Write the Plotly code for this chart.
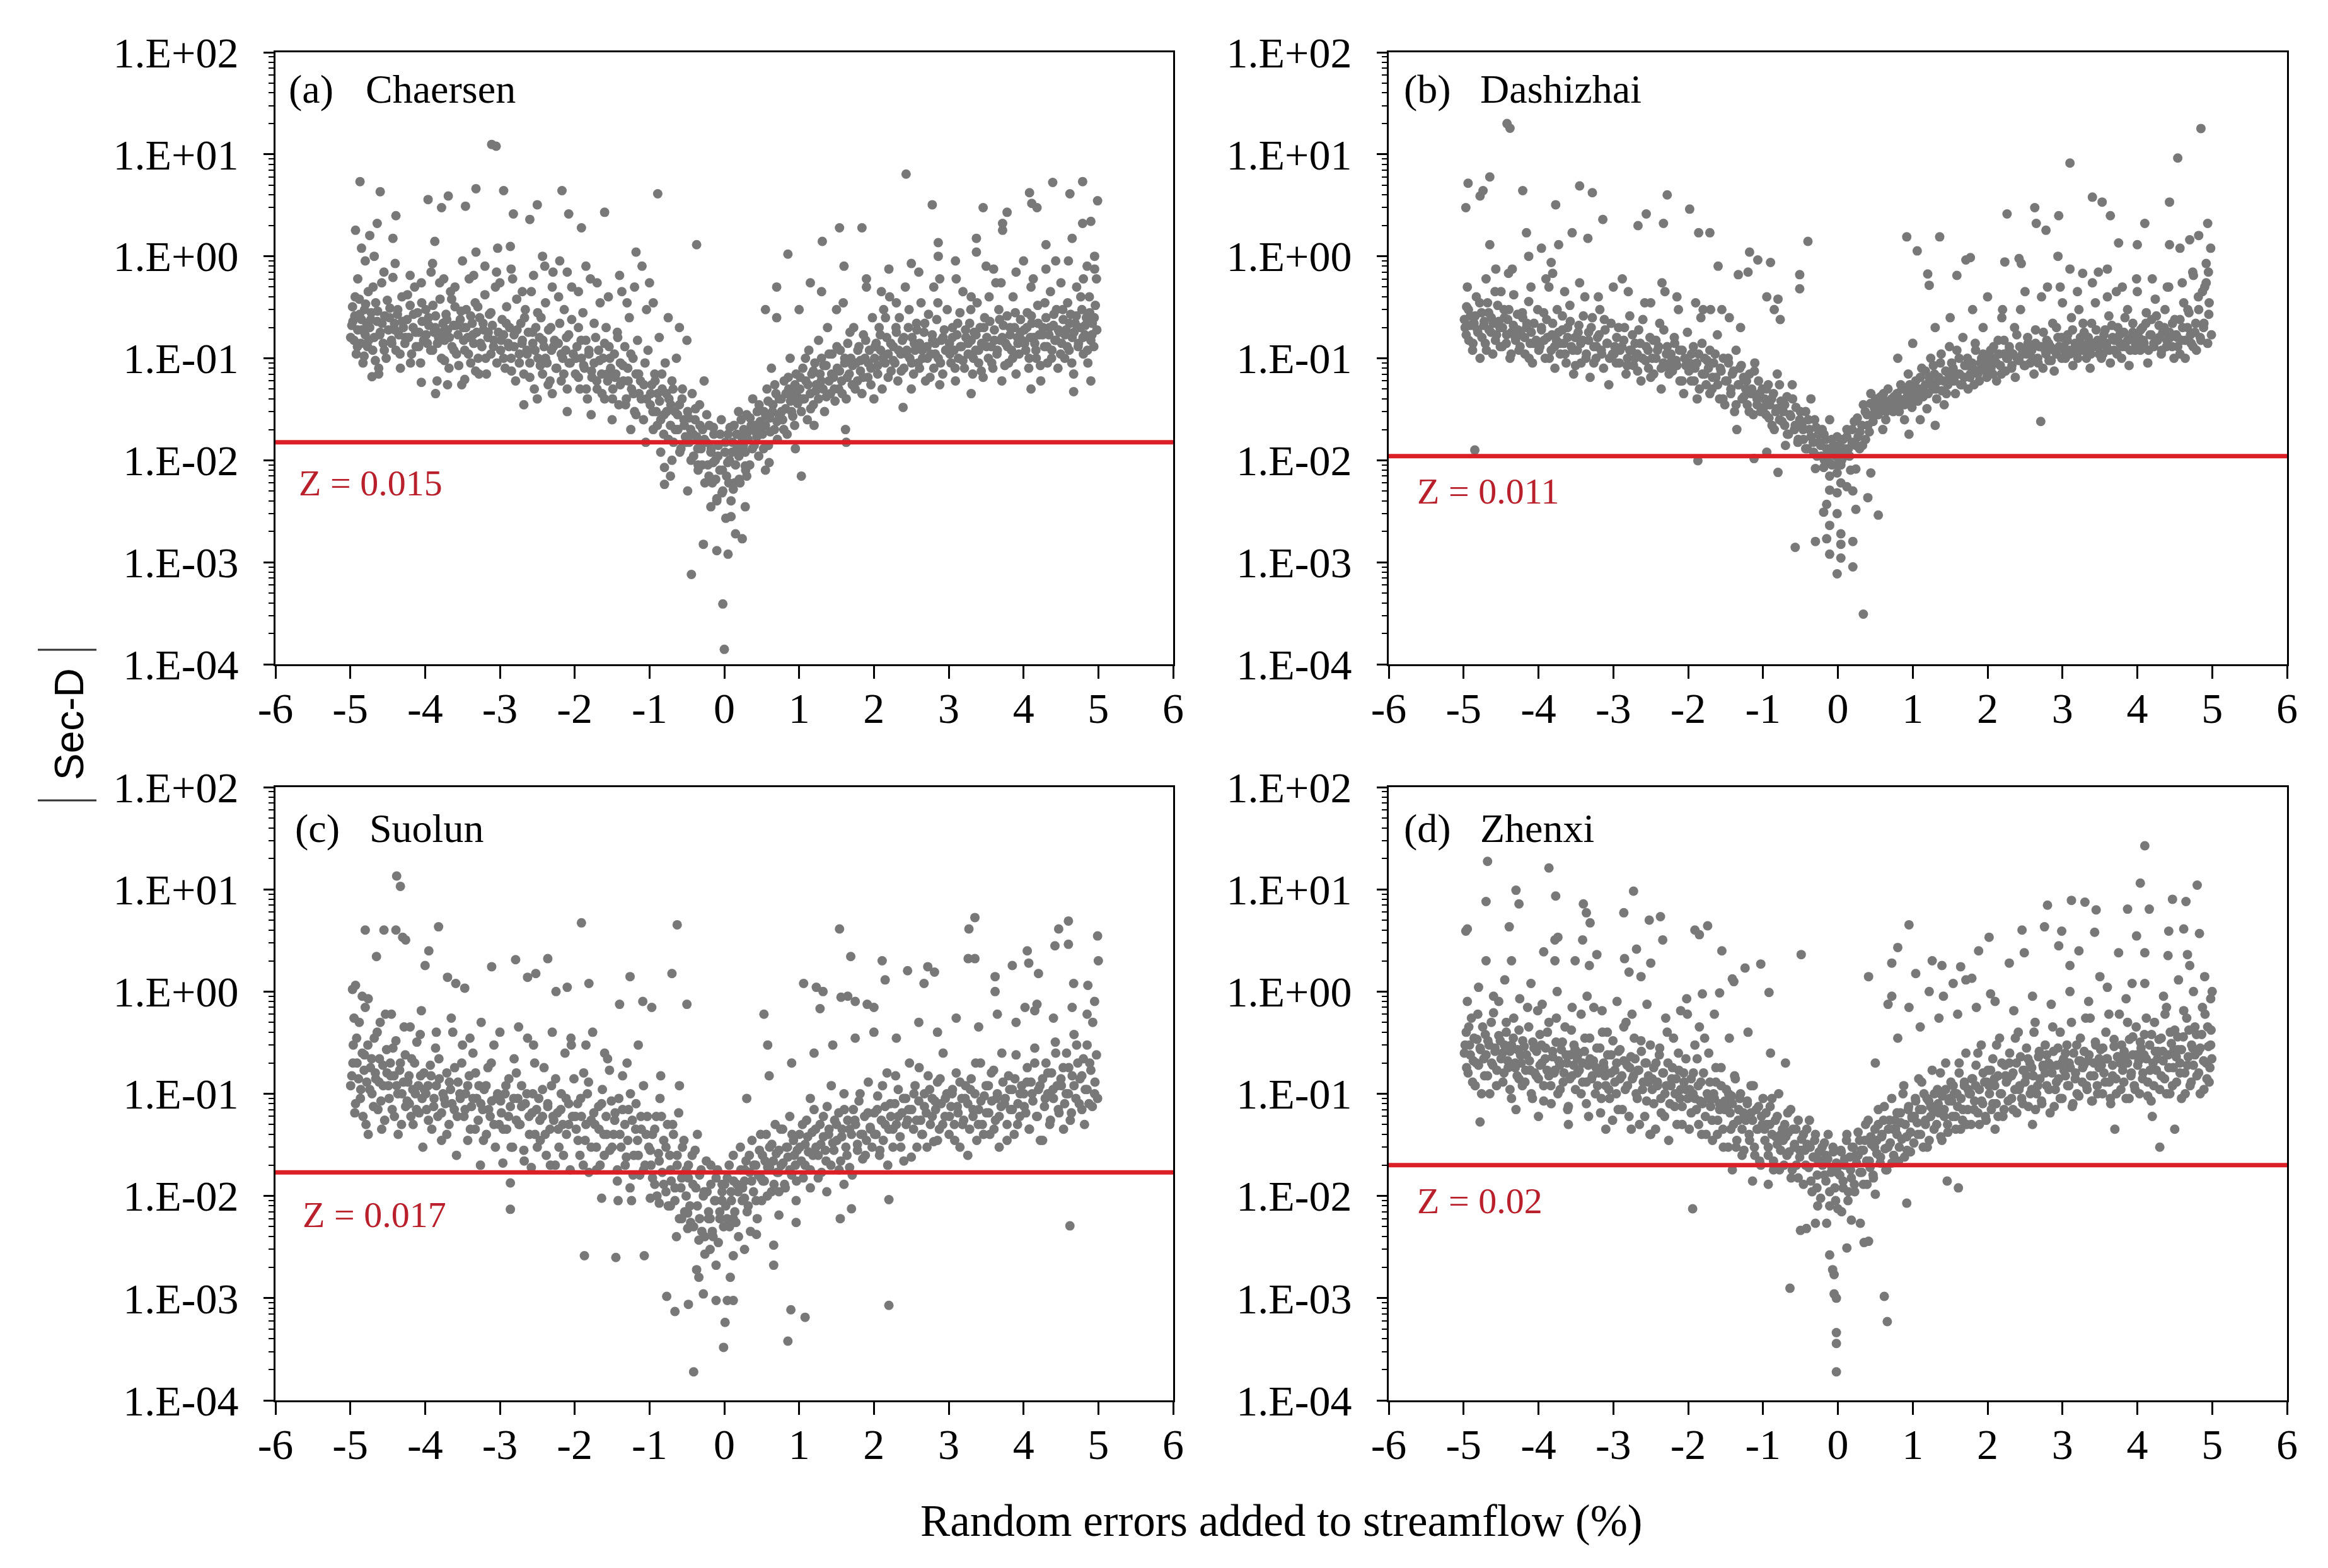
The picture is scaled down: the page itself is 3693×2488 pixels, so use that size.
import math
import plotly.graph_objects as go

# |Sec-D| versus random error (%) for four stations
stations = ["Chaersen", "Dashizhai", "Suolun", "Zhenxi"]
letters = ["(a)", "(b)", "(c)", "(d)"]
z_values = [0.015, 0.011, 0.017, 0.02]
z_labels = ["Z = 0.015", "Z = 0.011", "Z = 0.017", "Z = 0.02"]

x_ticks = [-6, -5, -4, -3, -2, -1, 0, 1, 2, 3, 4, 5, 6]
x_ticktext = ["-6", "-5", "-4", "-3", "-2", "-1", "0", "1", "2", "3", "4", "5", "6"]
y_ticks = [1e-4, 1e-3, 1e-2, 1e-1, 1, 10, 100]
y_ticktext = ["1.E-04", "1.E-03", "1.E-02", "1.E-01", "1.E+00", "1.E+01", "1.E+02"]

chaersen = [
    (-4.98,0.21),(-4.97,0.32),(-4.95,0.15),(-4.94,0.26),(-4.92,0.11),(-4.9,0.19),(-4.88,0.38),(-4.86,0.14),(-4.85,0.24),(-4.83,0.09),(-4.81,0.3),(-4.8,0.17),(-4.78,0.22),(-4.77,0.13),(-4.76,0.45),
    (-4.74,0.2),(-4.72,0.28),(-4.7,0.12),(-4.68,0.16),(-4.66,0.35),(-4.64,0.23),(-4.62,0.07),(-4.6,0.18),(-4.58,0.55),(-4.56,0.14),(-4.54,0.26),(-4.52,0.1),
    (-4.49,0.19),(-4.47,0.31),(-4.45,0.15),(-4.43,0.62),(-4.41,0.22),(-4.39,0.12),(-4.37,0.27),(-4.35,0.17),(-4.33,0.08),(-4.31,0.4),(-4.29,0.2),(-4.27,0.14),
    (-4.24,0.24),(-4.22,0.16),(-4.2,0.33),(-4.18,0.11),(-4.16,0.2),(-4.14,0.5),(-4.12,0.13),(-4.1,0.28),(-4.08,0.18),(-4.06,0.09),(-4.04,0.23),(-4.02,0.15),
    (-3.99,0.3),(-3.97,0.14),(-3.95,0.21),(-3.92,0.7),(-3.9,0.12),(-3.88,0.18),(-3.86,0.26),(-3.84,0.06),(-3.82,0.16),(-3.8,0.38),(-3.78,0.1),(-3.76,0.22),
    (-3.74,0.15),(-3.72,0.27),(-3.7,0.19),(-3.68,0.08),(-3.66,0.45),(-3.64,0.13),(-3.62,0.21),(-3.6,0.32),(-3.58,0.11),(-3.56,0.17),(-3.53,0.24),(-3.51,0.055),
    (-3.49,0.2),(-3.47,0.12),(-3.45,0.3),(-3.43,0.16),(-3.41,0.6),(-3.39,0.09),(-3.37,0.22),(-3.35,0.14),(-3.33,0.35),(-3.31,0.18),(-3.29,0.1),(-3.27,0.25),
    (-3.24,0.13),(-3.22,0.19),(-3.2,0.42),(-3.18,0.07),(-3.16,0.16),(-3.14,0.27),(-3.12,0.11),(-3.1,0.21),(-3.08,0.15),(-3.06,0.5),(-3.04,0.09),(-3.02,0.18),
    (-2.99,0.12),(-2.97,0.24),(-2.95,0.17),(-2.93,0.08),(-2.91,0.32),(-2.89,0.14),(-2.87,0.2),(-2.85,0.1),(-2.83,0.6),(-2.81,0.13),(-2.79,0.06),(-2.77,0.19),
    (-2.74,0.11),(-2.72,0.22),(-2.7,0.15),(-2.68,0.07),(-2.66,0.3),(-2.64,0.12),(-2.62,0.18),(-2.6,0.09),(-2.58,0.45),(-2.56,0.14),(-2.54,0.05),(-2.52,0.2),
    (-2.49,0.1),(-2.47,0.16),(-2.45,0.25),(-2.43,0.07),(-2.41,0.13),(-2.39,0.35),(-2.37,0.09),(-2.35,0.19),(-2.33,0.06),(-2.31,0.12),(-2.29,0.7),(-2.27,0.15),
    (-2.24,0.08),(-2.22,0.14),(-2.2,0.22),(-2.18,0.06),(-2.16,0.1),(-2.14,0.3),(-2.12,0.12),(-2.1,0.05),(-2.08,0.17),(-2.06,0.09),(-2.04,0.5),(-2.02,0.11),
    (-1.99,0.07),(-1.97,0.13),(-1.95,0.2),(-1.93,0.05),(-1.91,0.1),(-1.89,0.28),(-1.87,0.08),(-1.85,0.15),(-1.83,0.04),(-1.81,0.11),(-1.79,0.6),(-1.77,0.065),
    (-1.74,0.09),(-1.72,0.16),(-1.7,0.05),(-1.68,0.12),(-1.66,0.35),(-1.64,0.07),(-1.62,0.1),(-1.6,0.04),(-1.58,0.2),(-1.56,0.06),(-1.54,0.13),(-1.52,0.08),
    (-1.49,0.05),(-1.47,0.11),(-1.45,0.07),(-1.43,0.18),(-1.41,0.035),(-1.39,0.09),(-1.37,0.45),(-1.35,0.06),(-1.33,0.13),(-1.31,0.04),(-1.29,0.08),(-1.27,0.25),
    (-1.24,0.05),(-1.22,0.1),(-1.2,0.03),(-1.18,0.07),(-1.16,0.15),(-1.14,0.045),(-1.12,0.06),(-1.1,0.8),(-1.08,0.025),(-1.06,0.09),(-1.04,0.04),(-1.02,0.12),
    (-0.99,0.035),(-0.97,0.055),(-0.95,0.02),(-0.93,0.07),(-0.91,0.03),(-0.89,0.045),(-0.87,0.16),(-0.85,0.025),(-0.83,0.05),(-0.81,0.018),(-0.79,0.09),(-0.77,0.03),
    (-0.74,0.04),(-0.72,0.022),(-0.7,0.06),(-0.68,0.015),(-0.66,0.03),(-0.64,0.1),(-0.62,0.02),(-0.6,0.035),(-0.58,0.013),(-0.56,0.05),(-0.54,0.025),(-0.52,0.017),
    (-0.49,0.03),(-0.47,0.015),(-0.45,0.02),(-0.43,0.045),(-0.41,0.011),(-0.39,0.025),(-0.37,0.017),(-0.35,0.008),(-0.33,0.035),(-0.31,0.013),(-0.29,0.02),(-0.27,0.06),
    (-0.24,0.015),(-0.22,0.009),(-0.2,0.022),(-0.18,0.012),(-0.16,0.006),(-0.14,0.018),(-0.12,0.01),(-0.1,0.004),(-0.08,0.014),(-0.06,0.008),(-0.04,0.025),(-0.02,0.005),
    (0.01,0.012),(0.03,0.007),(0.05,0.018),(0.07,0.01),(0.09,0.004),(0.11,0.015),(0.13,0.022),(0.15,0.009),(0.17,0.013),(0.19,0.03),(0.21,0.006),(0.23,0.017),
    (0.26,0.02),(0.28,0.012),(0.3,0.028),(0.32,0.016),(0.34,0.009),(0.36,0.022),(0.38,0.04),(0.4,0.014),(0.42,0.019),(0.44,0.03),(0.46,0.011),(0.48,0.024),
    (0.51,0.018),(0.53,0.03),(0.55,0.022),(0.57,0.05),(0.59,0.014),(0.61,0.026),(0.63,0.08),(0.65,0.035),(0.67,0.02),(0.69,0.045),(0.71,0.016),(0.73,0.028),
    (0.76,0.04),(0.78,0.025),(0.8,0.06),(0.82,0.032),(0.84,0.018),(0.86,0.05),(0.88,0.1),(0.9,0.03),(0.92,0.045),(0.94,0.022),(0.96,0.07),(0.98,0.036),
    (1.01,0.05),(1.03,0.03),(1.05,0.08),(1.07,0.04),(1.09,0.06),(1.11,0.025),(1.13,0.12),(1.15,0.045),(1.17,0.07),(1.19,0.035),(1.21,0.09),(1.23,0.055),
    (1.26,0.04),(1.28,0.07),(1.3,0.1),(1.32,0.05),(1.34,0.03),(1.36,0.085),(1.38,0.2),(1.4,0.06),(1.42,0.045),(1.44,0.11),(1.46,0.065),(1.48,0.038),
    (1.51,0.08),(1.53,0.05),(1.55,0.12),(1.57,0.06),(1.59,0.35),(1.61,0.09),(1.63,0.04),(1.65,0.14),(1.67,0.07),(1.69,0.1),(1.71,0.055),(1.73,0.2),
    (1.76,0.09),(1.78,0.06),(1.8,0.13),(1.82,0.075),(1.84,0.045),(1.86,0.17),(1.88,0.1),(1.9,0.5),(1.92,0.065),(1.94,0.12),(1.96,0.08),(1.98,0.25),
    (2.01,0.1),(2.03,0.14),(2.05,0.07),(2.07,0.2),(2.09,0.12),(2.11,0.05),(2.13,0.3),(2.15,0.09),(2.17,0.16),(2.19,0.11),(2.21,0.4),(2.23,0.075),
    (2.26,0.13),(2.28,0.09),(2.3,0.18),(2.32,0.06),(2.34,0.25),(2.36,0.11),(2.38,0.15),(2.4,0.08),(2.42,0.5),(2.44,0.12),(2.46,0.2),(2.48,0.1),
    (2.51,0.16),(2.53,0.07),(2.55,0.12),(2.57,0.22),(2.59,0.09),(2.61,0.14),(2.63,0.35),(2.65,0.1),(2.67,0.18),(2.69,0.06),(2.71,0.13),(2.73,0.27),
    (2.76,0.11),(2.78,0.17),(2.8,0.08),(2.82,0.14),(2.84,0.24),(2.86,0.1),(2.88,0.6),(2.9,0.15),(2.92,0.07),(2.94,0.19),(2.96,0.12),(2.98,0.3),
    (3.01,0.14),(3.03,0.09),(3.05,0.2),(3.07,0.12),(3.09,0.06),(3.11,0.17),(3.13,0.1),(3.15,0.28),(3.17,0.13),(3.19,0.45),(3.21,0.08),(3.23,0.16),
    (3.26,0.11),(3.28,0.22),(3.3,0.15),(3.32,0.07),(3.34,0.18),(3.36,0.12),(3.38,0.35),(3.4,0.09),(3.42,0.2),(3.44,0.14),(3.46,0.065),(3.48,0.25),
    (3.51,0.16),(3.53,0.1),(3.55,0.23),(3.57,0.13),(3.59,0.08),(3.61,0.19),(3.63,0.55),(3.65,0.12),(3.67,0.3),(3.69,0.15),(3.71,0.06),(3.73,0.21),
    (3.76,0.14),(3.78,0.26),(3.8,0.09),(3.82,0.17),(3.84,0.12),(3.86,0.4),(3.88,0.2),(3.9,0.07),(3.92,0.16),(3.94,0.11),(3.96,0.24),(3.98,0.15),
    (4.01,0.19),(4.03,0.12),(4.05,0.28),(4.07,0.08),(4.09,0.16),(4.11,0.22),(4.13,0.6),(4.15,0.14),(4.17,0.1),(4.19,0.33),(4.21,0.17),(4.23,0.06),
    (4.26,0.2),(4.28,0.13),(4.3,0.25),(4.32,0.09),(4.34,0.17),(4.36,0.45),(4.38,0.12),(4.4,0.21),(4.42,0.15),(4.44,0.3),(4.46,0.08),(4.48,0.18),
    (4.51,0.14),(4.53,0.24),(4.55,0.1),(4.57,0.19),(4.59,0.35),(4.61,0.12),(4.63,0.27),(4.65,0.16),(4.67,0.07),(4.69,0.22),(4.71,0.5),(4.73,0.13),
    (4.76,0.2),(4.78,0.3),(4.8,0.11),(4.82,0.17),(4.84,0.25),(4.86,0.09),(4.88,0.4),(4.9,0.15),(4.92,0.22),(4.94,0.13),(4.96,0.33),(4.98,0.19),
    (-4.995,0.16),(-4.965,0.23),(-4.935,0.4),(-4.905,0.13),(-4.875,0.27),(-4.845,0.19),(-4.815,0.105),(-4.795,0.34),(-4.755,0.15),(-4.725,0.24),
    (-4.695,0.5),(-4.665,0.095),(-4.635,0.29),(-4.605,0.17),(-4.575,0.22),(-4.545,0.12),(-4.505,0.37),(-4.475,0.25),(-4.445,0.14),(-4.405,0.19),
    (-4.365,0.3),(-4.335,0.11),(-4.305,0.23),(-4.265,0.16),(-4.235,0.42),(-4.195,0.09),(-4.155,0.27),(-4.125,0.18),(-4.085,0.13),(-4.045,0.35),
    (-3.985,0.17),(-3.955,0.25),(-3.925,0.12),(-3.895,0.33),(-3.865,0.2),(-3.835,0.14),(-3.805,0.55),(-3.77,0.18),(-3.74,0.095),(-3.71,0.24),
    (-3.675,0.16),(-3.645,0.38),(-3.615,0.12),(-3.585,0.21),(-3.55,0.085),(-3.52,0.29),(-3.485,0.15),(-3.455,0.2),(-3.42,0.11),(-3.39,0.26),
    (-3.36,0.17),(-3.325,0.075),(-3.295,0.32),(-3.26,0.14),(-3.225,0.22),(-3.19,0.1),(-3.155,0.18),(-3.12,0.28),(-3.085,0.13),(-3.045,0.7),
    (-2.985,0.15),(-2.95,0.1),(-2.915,0.22),(-2.88,0.13),(-2.845,0.075),(-2.81,0.17),(-2.775,0.38),(-2.74,0.09),(-2.705,0.14),(-2.67,0.25),
    (-2.635,0.11),(-2.6,0.065),(-2.565,0.18),(-2.53,0.12),(-2.495,0.28),(-2.46,0.085),(-2.425,0.15),(-2.39,0.1),(-2.355,0.055),(-2.32,0.2),
    (-2.285,0.13),(-2.25,0.08),(-2.215,0.4),(-2.18,0.11),(-2.145,0.07),(-2.11,0.16),(-2.075,0.09),(-2.04,0.24),
    (-1.985,0.1),(-1.95,0.065),(-1.915,0.15),(-1.88,0.085),(-1.845,0.05),(-1.81,0.12),(-1.775,0.075),(-1.74,0.22),(-1.705,0.06),(-1.67,0.095),
    (-1.635,0.045),(-1.6,0.14),(-1.565,0.07),(-1.53,0.1),(-1.495,0.04),(-1.46,0.065),(-1.425,0.16),(-1.39,0.055),(-1.355,0.085),(-1.32,0.035),
    (-1.285,0.06),(-1.25,0.11),(-1.215,0.045),(-1.18,0.028),(-1.145,0.07),(-1.11,0.04),(-1.075,0.055),(-1.04,0.3),
    (-0.985,0.045),(-0.955,0.03),(-0.925,0.06),(-0.895,0.022),(-0.865,0.038),(-0.835,0.07),(-0.805,0.028),(-0.775,0.045),(-0.745,0.016),(-0.715,0.035),
    (-0.685,0.05),(-0.655,0.02),(-0.625,0.028),(-0.595,0.012),(-0.565,0.04),(-0.535,0.022),(-0.505,0.015),(-0.475,0.026),(-0.445,0.01),(-0.415,0.018),
    (-0.385,0.032),(-0.355,0.013),(-0.325,0.022),(-0.295,0.009),(-0.265,0.016),(-0.235,0.028),(-0.205,0.007),(-0.175,0.013),(-0.145,0.021),(-0.115,0.0065),
    (-0.085,0.011),(-0.055,0.018),(-0.025,0.008),
    (0.015,0.015),(0.045,0.0095),(0.075,0.021),(0.105,0.012),(0.135,0.006),(0.165,0.018),(0.195,0.011),(0.225,0.025),(0.255,0.014),(0.285,0.008),
    (0.315,0.019),(0.345,0.026),(0.375,0.013),(0.405,0.022),(0.435,0.017),(0.465,0.035),(0.495,0.02),(0.525,0.013),(0.555,0.027),(0.585,0.038),
    (0.615,0.019),(0.645,0.03),(0.675,0.055),(0.705,0.024),(0.735,0.04),(0.765,0.03),(0.795,0.02),(0.825,0.045),(0.855,0.065),(0.885,0.038),
    (0.915,0.027),(0.945,0.055),(0.975,0.042),
    (1.015,0.065),(1.05,0.04),(1.085,0.1),(1.12,0.055),(1.155,0.032),(1.19,0.075),(1.225,0.048),(1.26,0.15),(1.295,0.06),(1.33,0.085),
    (1.365,0.042),(1.4,0.11),(1.435,0.07),(1.47,0.05),(1.505,0.13),(1.54,0.075),(1.575,0.045),(1.61,0.1),(1.645,0.065),(1.68,0.18),
    (1.715,0.085),(1.75,0.05),(1.785,0.12),(1.82,0.095),(1.855,0.065),(1.89,0.15),(1.925,0.09),(1.96,0.055),
    (2.015,0.13),(2.05,0.085),(2.085,0.17),(2.12,0.1),(2.155,0.25),(2.19,0.065),(2.225,0.14),(2.26,0.095),(2.295,0.2),(2.33,0.12),
    (2.365,0.075),(2.4,0.16),(2.435,0.11),(2.47,0.3),(2.505,0.09),(2.54,0.14),(2.575,0.19),(2.61,0.08),(2.645,0.12),(2.68,0.22),
    (2.715,0.1),(2.75,0.065),(2.785,0.15),(2.82,0.11),(2.855,0.35),(2.89,0.09),(2.925,0.16),(2.96,0.12),
    (3.015,0.11),(3.05,0.16),(3.085,0.08),(3.12,0.22),(3.155,0.13),(3.19,0.095),(3.225,0.19),(3.26,0.14),(3.295,0.3),(3.33,0.1),
    (3.365,0.17),(3.4,0.12),(3.435,0.075),(3.47,0.2),(3.505,0.13),(3.54,0.4),(3.575,0.09),(3.61,0.15),(3.645,0.11),(3.68,0.24),
    (3.715,0.16),(3.75,0.085),(3.785,0.13),(3.82,0.2),(3.855,0.1),(3.89,0.28),(3.925,0.14),(3.96,0.18),
    (4.015,0.14),(4.045,0.2),(4.075,0.1),(4.105,0.26),(4.135,0.16),(4.165,0.12),(4.195,0.22),(4.225,0.085),(4.255,0.17),(4.285,0.35),
    (4.315,0.13),(4.345,0.2),(4.375,0.1),(4.405,0.27),(4.435,0.15),(4.465,0.19),(4.495,0.11),(4.525,0.3),(4.555,0.17),(4.585,0.13),
    (4.615,0.22),(4.645,0.09),(4.675,0.18),(4.705,0.26),(4.735,0.14),(4.765,0.4),(4.795,0.16),(4.825,0.21),(4.855,0.12),(4.885,0.28),
    (4.915,0.17),(4.945,0.25),(4.975,0.6),
    (-4.9,0.6),(-4.8,0.9),(-4.55,0.7),(-4.4,0.85),(-4.2,0.65),(-4.05,0.55),(-3.9,0.85),(-3.75,0.6),(-3.6,0.5),(-3.5,0.9),(-3.35,0.65),(-3.2,0.8),
    (-3.0,0.55),(-2.85,0.75),(-2.7,0.45),(-2.55,0.65),(-2.4,0.8),(-2.3,0.5),(-2.1,0.7),(-1.95,0.45),(-1.85,0.8),(-1.7,0.55),(-1.55,0.4),(-1.4,0.65),
    (-1.3,0.35),(-1.2,0.5),(-0.95,0.35),(-0.6,0.2),(-0.5,0.15),(0.7,0.25),(1.0,0.3),(1.3,0.45),(1.5,0.3),(1.9,0.6),(2.1,0.45),(2.3,0.35),(2.6,0.7),
    (2.8,0.5),(3.1,0.6),(3.3,0.4),(3.5,0.8),(3.7,0.55),(3.9,0.7),(4.1,0.5),(4.3,0.75),(4.5,0.55),(4.6,0.9),(4.8,0.6),(4.95,0.75),
    (-4.87,5.4),(-4.6,4.3),(-4.39,2.5),(-4.64,2.1),(-4.93,1.8),(-4.74,1.6),(-4.43,1.5),(-4.85,1.2),(-4.68,1.0),(-3.96,3.6),(-3.78,3.0),(-3.69,3.9),
    (-3.46,3.1),(-3.32,4.6),(-3.11,12.5),(-3.05,12.0),(-2.95,4.4),(-2.82,2.6),(-2.6,2.3),(-2.5,3.2),(-2.17,4.4),(-2.08,2.6),(-1.91,1.9),(-1.6,2.7),
    (-0.89,4.1),(-0.37,1.3),(-1.18,1.1),(-3.87,1.4),(-3.03,1.2),(-2.86,1.25),(-3.32,1.1),(-2.43,1.0),(-2.2,0.9),(-1.0,0.55),(-0.75,0.25),
    (-4.05,0.058),(-3.86,0.045),(-3.7,0.055),(-3.47,0.062),(-3.28,0.07),(-4.71,0.066),(-4.62,0.08),(-2.68,0.035),(-2.5,0.04),(-2.3,0.045),(-2.1,0.03),
    (-1.78,0.028),(-1.5,0.025),(-1.25,0.02),(-1.05,0.015),(-0.85,0.012),(-0.7,0.01),
    (-0.44,0.00076),(-0.02,0.00039),(0.0,0.00014),(-0.28,0.0015),(-0.1,0.0013),(0.05,0.0012),(0.15,0.0019),(0.24,0.0017),(0.09,0.0028),(0.02,0.0027),
    (0.28,0.0035),(-0.18,0.0035),(-0.1,0.0042),(-0.03,0.0048),(0.12,0.0052),(0.06,0.006),(0.2,0.0065),(-0.26,0.006),(-0.49,0.005),(-0.8,0.0058),
    (-0.8,0.0085),(-0.72,0.007),(-0.35,0.009),(-0.15,0.0095),(0.3,0.007),(0.55,0.008),(0.6,0.0095),(1.03,0.007),(0.28,0.0088),
    (2.43,6.4),(2.78,3.2),(3.46,3.0),(3.78,2.7),(3.72,2.1),(3.72,1.8),(4.08,4.2),(4.11,3.3),(4.18,3.0),(4.39,5.3),(4.62,4.1),(4.79,5.4),(4.99,3.5),
    (4.9,2.2),(4.79,2.1),(4.65,1.5),(1.54,1.9),(1.84,1.9),(1.31,1.4),(0.85,1.05),(2.86,1.36),(3.37,1.5),(3.37,1.1),(3.09,0.9),(2.86,1.0),(4.95,1.0),
    (4.43,0.9),(4.0,0.9),(0.55,0.3),(0.7,0.5),(1.15,0.55),(1.6,0.8),(2.2,0.75),(2.5,0.85),(3.6,0.75),(4.3,1.3),(4.85,0.8),
    (4.67,0.047),(2.88,0.055),(2.39,0.033),(2.5,0.05),(1.63,0.015),(1.62,0.02),(3.3,0.045),(4.1,0.05),(4.9,0.06),(2.0,0.04),(1.2,0.022),(0.95,0.013),
]

dashizhai = [
    (-4.98,0.2),(-4.96,0.32),(-4.93,0.15),(-4.91,0.26),(-4.88,0.12),(-4.86,0.22),(-4.83,0.4),(-4.81,0.18),(-4.78,0.1),(-4.76,0.28),
    (-4.73,0.21),(-4.71,0.14),(-4.68,0.35),(-4.66,0.19),(-4.63,0.25),(-4.61,0.11),(-4.58,0.45),(-4.56,0.17),(-4.53,0.23),(-4.51,0.13),
    (-4.48,0.2),(-4.46,0.3),(-4.43,0.14),(-4.41,0.24),(-4.38,0.1),(-4.36,0.18),(-4.33,0.42),(-4.31,0.16),(-4.28,0.27),(-4.26,0.12),
    (-4.23,0.17),(-4.21,0.25),(-4.18,0.11),(-4.16,0.2),(-4.13,0.36),(-4.11,0.14),(-4.08,0.09),(-4.06,0.22),(-4.03,0.15),(-4.01,0.3),
    (-3.98,0.13),(-3.96,0.19),(-3.93,0.28),(-3.91,0.1),(-3.88,0.16),(-3.86,0.5),(-3.83,0.12),(-3.81,0.22),(-3.78,0.08),(-3.76,0.15),
    (-3.73,0.18),(-3.71,0.11),(-3.68,0.26),(-3.66,0.14),(-3.63,0.09),(-3.61,0.2),(-3.58,0.33),(-3.56,0.13),(-3.53,0.07),(-3.51,0.16),
    (-3.48,0.12),(-3.46,0.21),(-3.43,0.09),(-3.41,0.15),(-3.38,0.4),(-3.36,0.11),(-3.33,0.18),(-3.31,0.065),(-3.28,0.25),(-3.26,0.13),
    (-3.23,0.1),(-3.21,0.16),(-3.18,0.3),(-3.16,0.12),(-3.13,0.08),(-3.11,0.19),(-3.08,0.14),(-3.06,0.055),(-3.03,0.22),(-3.01,0.11),
    (-2.98,0.13),(-2.96,0.09),(-2.93,0.2),(-2.91,0.12),(-2.88,0.6),(-2.86,0.15),(-2.83,0.07),(-2.81,0.1),(-2.78,0.26),(-2.76,0.12),
    (-2.73,0.085),(-2.71,0.14),(-2.68,0.11),(-2.66,0.19),(-2.63,0.06),(-2.61,0.1),(-2.58,0.35),(-2.56,0.13),(-2.53,0.08),(-2.51,0.16),
    (-2.48,0.1),(-2.46,0.07),(-2.43,0.15),(-2.41,0.12),(-2.38,0.22),(-2.36,0.05),(-2.33,0.09),(-2.31,0.45),(-2.28,0.13),(-2.26,0.08),
    (-2.23,0.11),(-2.21,0.075),(-2.18,0.14),(-2.16,0.095),(-2.13,0.3),(-2.11,0.06),(-2.08,0.12),(-2.06,0.045),(-2.03,0.085),(-2.01,0.18),
    (-1.98,0.09),(-1.96,0.06),(-1.93,0.13),(-1.91,0.08),(-1.88,0.04),(-1.86,0.11),(-1.83,0.25),(-1.81,0.07),(-1.78,0.1),(-1.76,0.055),
    (-1.73,0.08),(-1.71,0.12),(-1.68,0.05),(-1.66,0.09),(-1.63,0.065),(-1.61,0.17),(-1.58,0.04),(-1.56,0.075),(-1.53,0.1),(-1.51,0.035),
    (-1.48,0.06),(-1.46,0.09),(-1.43,0.045),(-1.41,0.07),(-1.38,0.03),(-1.36,0.12),(-1.33,0.055),(-1.31,0.08),(-1.28,0.04),(-1.26,0.065),
    (-1.23,0.05),(-1.21,0.035),(-1.18,0.07),(-1.16,0.045),(-1.13,0.028),(-1.11,0.09),(-1.08,0.04),(-1.06,0.06),(-1.03,0.03),(-1.01,0.05),
    (-0.98,0.04),(-0.96,0.028),(-0.93,0.055),(-0.91,0.035),(-0.88,0.022),(-0.86,0.045),(-0.83,0.03),(-0.81,0.07),(-0.78,0.025),(-0.76,0.038),
    (-0.73,0.03),(-0.71,0.022),(-0.68,0.042),(-0.66,0.018),(-0.63,0.027),(-0.61,0.055),(-0.58,0.02),(-0.56,0.033),(-0.53,0.016),(-0.51,0.025),
    (-0.48,0.022),(-0.46,0.016),(-0.43,0.03),(-0.41,0.013),(-0.38,0.02),(-0.36,0.04),(-0.33,0.015),(-0.31,0.025),(-0.28,0.011),(-0.26,0.018),
    (-0.23,0.014),(-0.21,0.02),(-0.18,0.01),(-0.16,0.016),(-0.13,0.012),(-0.11,0.025),(-0.08,0.009),(-0.06,0.014),(-0.03,0.011),(-0.01,0.017),
    (0.02,0.012),(0.04,0.009),(0.07,0.016),(0.09,0.011),(0.12,0.02),(0.14,0.013),(0.17,0.008),(0.19,0.015),(0.22,0.024),(0.24,0.014),
    (0.27,0.017),(0.29,0.013),(0.32,0.022),(0.34,0.035),(0.37,0.016),(0.39,0.028),(0.42,0.019),(0.44,0.045),(0.47,0.024),(0.49,0.032),
    (0.52,0.036),(0.54,0.028),(0.57,0.042),(0.59,0.032),(0.62,0.038),(0.64,0.025),(0.67,0.05),(0.69,0.034),(0.72,0.04),(0.74,0.03),
    (0.77,0.035),(0.79,0.045),(0.82,0.03),(0.84,0.055),(0.87,0.038),(0.89,0.025),(0.92,0.048),(0.94,0.07),(0.97,0.04),(0.99,0.033),
    (1.02,0.045),(1.04,0.06),(1.07,0.038),(1.09,0.05),(1.12,0.08),(1.14,0.042),(1.17,0.055),(1.19,0.032),(1.22,0.065),(1.24,0.1),
    (1.27,0.05),(1.29,0.07),(1.32,0.04),(1.34,0.06),(1.37,0.09),(1.39,0.048),(1.42,0.035),(1.44,0.075),(1.47,0.055),(1.49,0.13),
    (1.52,0.06),(1.54,0.08),(1.57,0.045),(1.59,0.07),(1.62,0.1),(1.64,0.055),(1.67,0.16),(1.69,0.065),(1.72,0.085),(1.74,0.05),
    (1.77,0.07),(1.79,0.09),(1.82,0.055),(1.84,0.12),(1.87,0.075),(1.89,0.06),(1.92,0.1),(1.94,0.2),(1.97,0.08),(1.99,0.065),
    (2.02,0.09),(2.04,0.12),(2.07,0.07),(2.09,0.1),(2.12,0.06),(2.14,0.15),(2.17,0.085),(2.19,0.25),(2.22,0.11),(2.24,0.075),
    (2.27,0.1),(2.29,0.13),(2.32,0.08),(2.34,0.11),(2.37,0.065),(2.39,0.17),(2.42,0.095),(2.44,0.3),(2.47,0.12),(2.49,0.085),
    (2.52,0.11),(2.54,0.14),(2.57,0.09),(2.59,0.12),(2.62,0.07),(2.64,0.19),(2.67,0.1),(2.69,0.13),(2.72,0.4),(2.74,0.08),
    (2.77,0.12),(2.79,0.15),(2.82,0.095),(2.84,0.13),(2.87,0.22),(2.89,0.075),(2.92,0.11),(2.94,0.16),(2.97,0.5),(2.99,0.1),
    (3.02,0.13),(3.04,0.1),(3.07,0.17),(3.09,0.12),(3.12,0.25),(3.14,0.085),(3.17,0.14),(3.19,0.11),(3.22,0.3),(3.24,0.16),
    (3.27,0.12),(3.29,0.18),(3.32,0.1),(3.34,0.14),(3.37,0.08),(3.39,0.22),(3.42,0.13),(3.44,0.35),(3.47,0.15),(3.49,0.11),
    (3.52,0.15),(3.54,0.11),(3.57,0.19),(3.59,0.13),(3.62,0.26),(3.64,0.09),(3.67,0.16),(3.69,0.12),(3.72,0.45),(3.74,0.2),
    (3.77,0.14),(3.79,0.1),(3.82,0.18),(3.84,0.13),(3.87,0.3),(3.89,0.085),(3.92,0.16),(3.94,0.22),(3.97,0.12),(3.99,0.6),
    (4.02,0.16),(4.04,0.12),(4.07,0.2),(4.09,0.14),(4.12,0.28),(4.14,0.09),(4.17,0.17),(4.19,0.24),(4.22,0.13),(4.24,0.38),
    (4.27,0.15),(4.29,0.21),(4.32,0.11),(4.34,0.18),(4.37,0.3),(4.39,0.13),(4.42,0.5),(4.44,0.16),(4.47,0.22),(4.49,0.1),
    (4.52,0.17),(4.54,0.13),(4.57,0.24),(4.59,0.15),(4.62,0.35),(4.64,0.1),(4.67,0.2),(4.69,0.28),(4.72,0.14),(4.74,0.7),
    (4.77,0.18),(4.79,0.12),(4.82,0.3),(4.84,0.16),(4.87,0.45),(4.89,0.22),(4.92,0.85),(4.94,0.14),(4.96,0.35),(4.98,1.2),
    (-4.99,0.24),(-4.965,0.17),(-4.935,0.3),(-4.905,0.21),(-4.875,0.14),(-4.845,0.26),(-4.815,0.19),(-4.785,0.35),(-4.755,0.16),(-4.725,0.23),
    (-4.695,0.12),(-4.665,0.28),(-4.635,0.18),(-4.605,0.22),(-4.575,0.15),(-4.545,0.33),(-4.515,0.2),(-4.485,0.13),(-4.455,0.25),(-4.425,0.17),
    (-4.395,0.3),(-4.365,0.11),(-4.335,0.21),(-4.305,0.15),(-4.275,0.19),(-4.245,0.13),(-4.215,0.28),(-4.185,0.16),(-4.155,0.22),(-4.125,0.1),
    (-4.095,0.18),(-4.065,0.14),
    (-3.995,0.12),(-3.96,0.2),(-3.925,0.15),(-3.89,0.24),(-3.855,0.1),(-3.82,0.17),(-3.785,0.13),(-3.75,0.3),(-3.715,0.14),(-3.68,0.19),
    (-3.645,0.11),(-3.61,0.16),(-3.575,0.23),(-3.54,0.12),(-3.505,0.085),(-3.47,0.18),(-3.435,0.14),(-3.4,0.26),(-3.365,0.1),(-3.33,0.15),
    (-3.295,0.2),(-3.26,0.09),(-3.225,0.13),(-3.19,0.17),(-3.155,0.11),(-3.12,0.24),(-3.085,0.14),(-3.05,0.1),
    (-2.99,0.11),(-2.955,0.16),(-2.92,0.09),(-2.885,0.13),(-2.85,0.2),(-2.815,0.085),(-2.78,0.12),(-2.745,0.17),(-2.71,0.1),(-2.675,0.075),
    (-2.64,0.14),(-2.605,0.24),(-2.57,0.095),(-2.535,0.12),(-2.5,0.065),(-2.465,0.15),(-2.43,0.1),(-2.395,0.13),(-2.36,0.08),(-2.325,0.19),
    (-2.29,0.11),(-2.255,0.07),(-2.22,0.095),(-2.185,0.16),(-2.15,0.085),(-2.115,0.12),(-2.08,0.06),(-2.045,0.1),
    (-1.99,0.075),(-1.955,0.11),(-1.92,0.06),(-1.885,0.09),(-1.85,0.05),(-1.815,0.14),(-1.78,0.07),(-1.745,0.095),(-1.71,0.045),(-1.675,0.065),
    (-1.64,0.11),(-1.605,0.055),(-1.57,0.08),(-1.535,0.04),(-1.5,0.06),(-1.465,0.1),(-1.43,0.05),(-1.395,0.075),(-1.36,0.035),(-1.325,0.055),
    (-1.29,0.085),(-1.255,0.042),(-1.22,0.06),(-1.185,0.03),(-1.15,0.05),(-1.115,0.075),(-1.08,0.035),(-1.045,0.045),
    (-0.99,0.033),(-0.955,0.05),(-0.92,0.026),(-0.885,0.04),(-0.85,0.02),(-0.815,0.032),(-0.78,0.055),(-0.745,0.024),(-0.71,0.035),(-0.675,0.018),
    (-0.64,0.028),(-0.605,0.04),(-0.57,0.022),(-0.535,0.015),(-0.5,0.03),(-0.465,0.02),(-0.43,0.013),(-0.395,0.025),(-0.36,0.017),(-0.325,0.012),
    (-0.29,0.021),(-0.255,0.015),(-0.22,0.011),(-0.185,0.018),(-0.15,0.013),(-0.115,0.0095),(-0.08,0.016),(-0.045,0.012),(-0.015,0.009),
    (0.015,0.014),(0.05,0.01),(0.085,0.013),(0.12,0.017),(0.155,0.011),(0.19,0.02),(0.225,0.015),(0.26,0.026),(0.295,0.019),(0.33,0.014),
    (0.365,0.03),(0.4,0.022),(0.435,0.036),(0.47,0.028),(0.505,0.04),(0.54,0.033),(0.575,0.036),(0.61,0.045),(0.645,0.03),(0.68,0.038),
    (0.715,0.034),(0.75,0.042),(0.785,0.032),(0.82,0.04),(0.855,0.05),(0.89,0.035),(0.925,0.042),(0.96,0.055),(0.995,0.038),
    (1.03,0.05),(1.065,0.042),(1.1,0.065),(1.135,0.05),(1.17,0.075),(1.205,0.045),(1.24,0.058),(1.275,0.085),(1.31,0.05),(1.345,0.065),
    (1.38,0.11),(1.415,0.06),(1.45,0.045),(1.485,0.07),(1.52,0.09),(1.555,0.06),(1.59,0.12),(1.625,0.07),(1.66,0.055),(1.695,0.085),
    (1.73,0.1),(1.765,0.065),(1.8,0.08),(1.835,0.14),(1.87,0.07),(1.905,0.09),(1.94,0.11),(1.975,0.075),
    (2.01,0.1),(2.045,0.08),(2.08,0.13),(2.115,0.09),(2.15,0.11),(2.185,0.07),(2.22,0.15),(2.255,0.1),(2.29,0.12),(2.325,0.085),
    (2.36,0.2),(2.395,0.1),(2.43,0.13),(2.465,0.11),(2.5,0.085),(2.535,0.16),(2.57,0.12),(2.605,0.1),(2.64,0.14),(2.675,0.09),
    (2.71,0.13),(2.745,0.18),(2.78,0.11),(2.815,0.14),(2.85,0.095),(2.885,0.12),(2.92,0.2),(2.955,0.13),(2.99,0.16),
    (3.03,0.12),(3.065,0.15),(3.1,0.11),(3.135,0.19),(3.17,0.13),(3.205,0.1),(3.24,0.14),(3.275,0.22),(3.31,0.12),(3.345,0.16),
    (3.38,0.11),(3.415,0.14),(3.45,0.19),(3.485,0.13),(3.52,0.1),(3.555,0.17),(3.59,0.14),(3.625,0.12),(3.66,0.21),(3.695,0.15),
    (3.73,0.11),(3.765,0.17),(3.8,0.13),(3.835,0.25),(3.87,0.15),(3.905,0.12),(3.94,0.18),(3.975,0.14),
    (4.01,0.13),(4.045,0.19),(4.08,0.15),(4.115,0.22),(4.15,0.12),(4.185,0.17),(4.22,0.14),(4.255,0.26),(4.29,0.16),(4.325,0.12),
    (4.36,0.2),(4.395,0.15),(4.43,0.18),(4.465,0.13),(4.5,0.24),(4.535,0.16),(4.57,0.11),(4.605,0.2),(4.64,0.15),(4.675,0.3),
    (4.71,0.17),(4.745,0.13),(4.78,0.22),(4.815,0.4),(4.85,0.15),(4.885,0.2),(4.92,0.55),(4.955,0.27),(4.99,0.17),
    (-4.95,0.5),(-4.7,0.6),(-4.5,0.45),(-4.35,0.75),(-4.1,0.5),(-3.9,0.6),(-3.65,0.45),(-3.45,0.55),(-3.2,0.4),(-3.0,0.5),(-2.8,0.45),(-2.5,0.35),
    (-2.35,0.55),(-2.15,0.4),(-1.9,0.35),(-1.7,0.3),(-1.45,0.25),(-1.3,0.2),(0.8,0.1),(1.0,0.14),(1.3,0.2),(1.5,0.25),(1.8,0.3),(2.0,0.4),(2.2,0.3),
    (2.5,0.45),(2.8,0.5),(3.0,0.35),(3.2,0.45),(3.4,0.55),(3.6,0.4),(3.8,0.5),(4.0,0.45),(4.2,0.6),(4.4,0.5),(4.6,0.55),(4.75,0.65),(4.9,0.5),(4.95,0.7),
    (-4.42,20.0),(-4.38,18.0),(-4.94,5.2),(-4.97,3.0),(-4.78,3.9),(-4.74,4.4),(-4.65,6.0),(-4.21,4.4),(-3.77,3.2),(-3.45,4.9),(-3.28,4.2),(-3.14,2.3),
    (-2.28,4.0),(-1.98,2.9),(-2.56,2.6),(-2.33,2.1),(-2.67,2.0),(-3.55,1.7),(-3.34,1.5),(-3.73,1.3),(-3.96,1.2),(-4.13,1.0),(-4.16,1.7),(-4.65,1.3),
    (-3.83,0.87),(-3.81,0.68),(-4.4,0.68),(-4.57,0.75),(-1.86,1.7),(-1.71,1.7),(-1.18,1.1),(-0.9,0.87),(-1.07,0.92),(-1.6,0.8),(-1.33,0.66),(-1.2,0.7),
    (-0.51,0.66),(-0.51,0.48),(-0.4,1.4),(-0.95,0.4),(-0.8,0.38),(-0.85,0.3),(-0.77,0.24),(-1.8,0.3),(-1.55,0.3),
    (0.92,1.55),(1.36,1.55),(1.06,1.13),(1.2,0.67),(1.22,0.52),(1.59,0.65),(1.77,0.97),(1.71,0.92),(2.26,2.6),(2.63,3.0),(2.95,2.5),(2.78,1.8),
    (2.65,2.1),(3.1,8.2),(3.4,3.8),(3.53,3.4),(3.64,2.5),(4.43,3.4),(4.54,9.2),(4.85,17.9),(4.1,2.1),(4.0,1.3),(3.75,1.35),(4.43,1.3),(4.57,1.2),
    (4.7,1.45),(4.82,1.6),(4.94,2.1),(2.42,0.95),(2.45,0.85),(2.23,0.88),(2.94,1.0),(3.1,0.75),(3.27,0.68),(3.48,0.7),(3.6,0.75),
    (-4.85,0.0126),(-1.87,0.0099),(-1.12,0.0104),(-0.8,0.0076),(2.71,0.024),(-1.35,0.02),(-0.95,0.012),(-0.7,0.014),(0.95,0.018),(0.6,0.02),
    (1.3,0.022),(1.1,0.025),
    (-0.3,0.0083),(-0.19,0.0085),(-0.11,0.007),(-0.01,0.0075),(0.04,0.006),(0.12,0.0055),(0.24,0.0082),(0.44,0.0075),(-0.11,0.0051),(-0.01,0.0048),
    (0.2,0.005),(0.4,0.0043),(-0.15,0.0037),(-0.19,0.0031),(-0.01,0.003),(0.24,0.0033),(0.54,0.0029),(-0.11,0.0023),(0.04,0.0019),(-0.15,0.0017),
    (-0.3,0.0016),(-0.57,0.0014),(0.04,0.0015),(0.2,0.0016),(-0.11,0.0012),(0.04,0.0011),(-0.01,0.00077),(0.2,0.0009),(0.34,0.00031),
]

suolun = [
    (-4.98,0.15),(-4.96,0.3),(-4.93,0.08),(-4.91,0.2),(-4.88,0.5),(-4.86,0.11),(-4.83,0.06),(-4.81,0.24),(-4.78,0.13),(-4.76,0.04),
    (-4.73,0.18),(-4.71,0.1),(-4.68,0.35),(-4.66,0.14),(-4.63,0.07),(-4.61,0.22),(-4.58,0.045),(-4.56,0.12),(-4.53,0.6),(-4.51,0.16),
    (-4.48,0.09),(-4.46,0.15),(-4.43,0.28),(-4.41,0.06),(-4.38,0.12),(-4.36,0.04),(-4.33,0.2),(-4.31,0.1),(-4.28,0.45),(-4.26,0.075),
    (-4.23,0.13),(-4.21,0.08),(-4.18,0.22),(-4.16,0.05),(-4.13,0.1),(-4.11,0.32),(-4.08,0.065),(-4.06,0.15),(-4.03,0.03),(-4.01,0.11),
    (-3.98,0.07),(-3.96,0.12),(-3.93,0.19),(-3.91,0.045),(-3.88,0.09),(-3.86,0.28),(-3.83,0.06),(-3.81,0.14),(-3.78,0.035),(-3.76,0.1),
    (-3.73,0.08),(-3.71,0.16),(-3.68,0.05),(-3.66,0.11),(-3.63,0.4),(-3.61,0.07),(-3.58,0.025),(-3.56,0.13),(-3.53,0.09),(-3.51,0.2),
    (-3.48,0.06),(-3.46,0.1),(-3.43,0.035),(-3.41,0.15),(-3.38,0.075),(-3.36,0.25),(-3.33,0.045),(-3.31,0.09),(-3.28,0.12),(-3.26,0.02),
    (-3.23,0.07),(-3.21,0.11),(-3.18,0.04),(-3.16,0.18),(-3.13,0.06),(-3.11,0.085),(-3.08,0.3),(-3.06,0.03),(-3.03,0.1),(-3.01,0.05),
    (-2.98,0.065),(-2.96,0.021),(-2.93,0.1),(-2.91,0.045),(-2.88,0.14),(-2.86,0.075),(-2.83,0.03),(-2.81,0.22),(-2.78,0.055),(-2.76,0.09),
    (-2.73,0.05),(-2.71,0.12),(-2.68,0.028),(-2.66,0.08),(-2.63,0.35),(-2.61,0.06),(-2.58,0.019),(-2.56,0.1),(-2.53,0.04),(-2.51,0.07),
    (-2.48,0.09),(-2.46,0.035),(-2.43,0.06),(-2.41,0.18),(-2.38,0.025),(-2.36,0.075),(-2.33,0.045),(-2.31,0.12),(-2.28,0.055),(-2.26,0.02),
    (-2.23,0.065),(-2.21,0.03),(-2.18,0.1),(-2.16,0.05),(-2.13,0.25),(-2.11,0.04),(-2.08,0.08),(-2.06,0.018),(-2.03,0.06),(-2.01,0.14),
    (-1.98,0.045),(-1.96,0.08),(-1.93,0.025),(-1.91,0.06),(-1.88,0.16),(-1.86,0.035),(-1.83,0.1),(-1.81,0.017),(-1.78,0.055),(-1.76,0.4),
    (-1.73,0.05),(-1.71,0.03),(-1.68,0.075),(-1.66,0.02),(-1.63,0.11),(-1.61,0.04),(-1.58,0.06),(-1.56,0.22),(-1.53,0.028),(-1.51,0.085),
    (-1.48,0.04),(-1.46,0.065),(-1.43,0.018),(-1.41,0.09),(-1.38,0.03),(-1.36,0.15),(-1.33,0.05),(-1.31,0.024),(-1.28,0.07),(-1.26,0.012),
    (-1.23,0.055),(-1.21,0.025),(-1.18,0.08),(-1.16,0.035),(-1.13,0.016),(-1.11,0.045),(-1.08,0.12),(-1.06,0.02),(-1.03,0.06),(-1.01,0.03),
    (-0.98,0.02),(-0.96,0.04),(-0.93,0.013),(-0.91,0.06),(-0.88,0.026),(-0.86,0.09),(-0.83,0.017),(-0.81,0.035),(-0.78,0.011),(-0.76,0.05),
    (-0.73,0.025),(-0.71,0.014),(-0.68,0.04),(-0.66,0.009),(-0.63,0.02),(-0.61,0.065),(-0.58,0.012),(-0.56,0.03),(-0.53,0.007),(-0.51,0.018),
    (-0.48,0.015),(-0.46,0.008),(-0.43,0.025),(-0.41,0.005),(-0.38,0.012),(-0.36,0.04),(-0.33,0.006),(-0.31,0.018),(-0.28,0.01),(-0.26,0.004),
    (-0.23,0.011),(-0.21,0.006),(-0.18,0.02),(-0.16,0.0045),(-0.13,0.009),(-0.11,0.015),(-0.08,0.0035),(-0.06,0.007),(-0.03,0.013),(-0.01,0.005),
    (0.02,0.008),(0.04,0.015),(0.07,0.005),(0.09,0.011),(0.12,0.025),(0.14,0.007),(0.17,0.013),(0.19,0.004),(0.22,0.018),(0.24,0.009),
    (0.27,0.014),(0.29,0.022),(0.32,0.008),(0.34,0.017),(0.37,0.035),(0.39,0.011),(0.42,0.02),(0.44,0.006),(0.47,0.028),(0.49,0.015),
    (0.51,0.025),(0.535,0.014),(0.56,0.04),(0.58,0.019),(0.605,0.03),(0.63,0.011),(0.655,0.022),(0.68,0.05),(0.705,0.017),(0.73,0.028),
    (0.76,0.02),(0.78,0.045),(0.805,0.013),(0.83,0.03),(0.85,0.024),(0.875,0.06),(0.9,0.016),(0.925,0.035),(0.95,0.02),(0.975,0.028),
    (1.005,0.04),(1.03,0.022),(1.055,0.015),(1.08,0.032),(1.1,0.055),(1.125,0.027),(1.15,0.018),(1.175,0.042),(1.2,0.07),(1.225,0.03),
    (1.255,0.025),(1.28,0.05),(1.3,0.017),(1.325,0.038),(1.35,0.028),(1.375,0.075),(1.4,0.045),(1.425,0.02),(1.45,0.033),(1.475,0.055),
    (1.505,0.035),(1.53,0.065),(1.555,0.022),(1.575,0.045),(1.6,0.1),(1.625,0.03),(1.65,0.055),(1.675,0.019),(1.7,0.04),(1.725,0.07),
    (1.755,0.05),(1.78,0.028),(1.8,0.085),(1.825,0.04),(1.85,0.023),(1.875,0.06),(1.9,0.035),(1.925,0.13),(1.95,0.047),(1.975,0.03),
    (2.005,0.065),(2.03,0.04),(2.05,0.095),(2.075,0.025),(2.1,0.055),(2.125,0.035),(2.15,0.075),(2.175,0.16),(2.2,0.045),(2.225,0.06),
    (2.255,0.03),(2.28,0.08),(2.3,0.05),(2.325,0.11),(2.35,0.038),(2.375,0.065),(2.4,0.022),(2.425,0.09),(2.45,0.055),(2.475,0.2),
    (2.505,0.07),(2.53,0.045),(2.55,0.12),(2.575,0.03),(2.6,0.085),(2.625,0.055),(2.65,0.04),(2.675,0.1),(2.7,0.065),(2.725,0.15),
    (2.755,0.05),(2.78,0.09),(2.8,0.034),(2.825,0.07),(2.85,0.13),(2.875,0.045),(2.9,0.08),(2.925,0.25),(2.95,0.06),(2.975,0.1),
    (3.005,0.04),(3.03,0.075),(3.05,0.11),(3.075,0.05),(3.1,0.16),(3.125,0.065),(3.15,0.03),(3.175,0.09),(3.2,0.055),(3.225,0.12),
    (3.255,0.08),(3.28,0.045),(3.3,0.14),(3.325,0.06),(3.35,0.1),(3.375,0.035),(3.4,0.07),(3.425,0.2),(3.45,0.05),(3.475,0.095),
    (3.505,0.065),(3.53,0.12),(3.55,0.04),(3.575,0.085),(3.6,0.17),(3.625,0.055),(3.65,0.1),(3.675,0.03),(3.7,0.075),(3.725,0.13),
    (3.755,0.09),(3.78,0.05),(3.8,0.15),(3.825,0.07),(3.85,0.11),(3.875,0.04),(3.9,0.24),(3.925,0.08),(3.95,0.06),(3.975,0.12),
    (4.005,0.1),(4.03,0.065),(4.05,0.18),(4.075,0.045),(4.1,0.13),(4.125,0.085),(4.15,0.28),(4.175,0.06),(4.2,0.11),(4.225,0.035),
    (4.255,0.14),(4.28,0.075),(4.3,0.2),(4.325,0.1),(4.35,0.05),(4.375,0.16),(4.4,0.09),(4.425,0.32),(4.45,0.12),(4.475,0.065),
    (4.505,0.12),(4.53,0.18),(4.55,0.08),(4.575,0.25),(4.6,0.1),(4.625,0.055),(4.65,0.15),(4.675,0.38),(4.7,0.09),(4.725,0.2),
    (4.755,0.14),(4.78,0.07),(4.8,0.22),(4.825,0.11),(4.85,0.3),(4.875,0.08),(4.9,0.17),(4.925,0.5),(4.95,0.1),(4.975,0.24),
    (-4.995,0.12),(-4.965,0.2),(-4.94,0.065),(-4.915,0.35),(-4.89,0.14),(-4.865,0.09),(-4.84,0.25),(-4.815,0.17),(-4.79,0.05),(-4.765,0.3),
    (-4.74,0.11),(-4.715,0.22),(-4.69,0.075),(-4.665,0.16),(-4.64,0.4),(-4.615,0.13),(-4.59,0.085),(-4.565,0.19),(-4.54,0.055),(-4.515,0.27),
    (-4.49,0.12),(-4.465,0.2),(-4.44,0.07),(-4.415,0.15),(-4.39,0.33),(-4.365,0.1),(-4.34,0.17),(-4.315,0.05),(-4.29,0.13),(-4.265,0.24),
    (-4.24,0.085),(-4.215,0.15),(-4.19,0.06),(-4.165,0.11),(-4.14,0.2),(-4.115,0.07),(-4.09,0.12),(-4.065,0.38),(-4.04,0.09),(-4.015,0.16),
    (-3.99,0.1),(-3.955,0.055),(-3.92,0.15),(-3.885,0.075),(-3.85,0.12),(-3.815,0.22),(-3.78,0.065),(-3.745,0.09),(-3.71,0.04),(-3.675,0.13),
    (-3.64,0.08),(-3.605,0.18),(-3.57,0.06),(-3.535,0.1),(-3.5,0.3),(-3.465,0.07),(-3.43,0.12),(-3.395,0.045),(-3.36,0.09),(-3.325,0.16),
    (-3.29,0.055),(-3.255,0.08),(-3.22,0.035),(-3.185,0.12),(-3.15,0.07),(-3.115,0.2),(-3.08,0.05),(-3.045,0.09),
    (-2.99,0.085),(-2.955,0.045),(-2.92,0.12),(-2.885,0.06),(-2.85,0.03),(-2.815,0.09),(-2.78,0.16),(-2.745,0.05),(-2.71,0.075),(-2.675,0.022),
    (-2.64,0.1),(-2.605,0.04),(-2.57,0.065),(-2.535,0.2),(-2.5,0.03),(-2.465,0.055),(-2.43,0.11),(-2.395,0.04),(-2.36,0.08),(-2.325,0.02),
    (-2.29,0.06),(-2.255,0.14),(-2.22,0.045),(-2.185,0.07),(-2.15,0.025),(-2.115,0.09),(-2.08,0.05),(-2.045,0.3),
    (-1.99,0.06),(-1.955,0.035),(-1.92,0.09),(-1.885,0.02),(-1.85,0.05),(-1.815,0.13),(-1.78,0.03),(-1.745,0.065),(-1.71,0.018),(-1.675,0.045),
    (-1.64,0.08),(-1.605,0.025),(-1.57,0.04),(-1.535,0.17),(-1.5,0.03),(-1.465,0.055),(-1.43,0.014),(-1.395,0.04),(-1.36,0.07),(-1.325,0.02),
    (-1.29,0.035),(-1.255,0.1),(-1.22,0.016),(-1.185,0.045),(-1.15,0.025),(-1.115,0.06),(-1.08,0.018),(-1.045,0.04),
    (-0.99,0.028),(-0.96,0.015),(-0.93,0.045),(-0.9,0.01),(-0.87,0.022),(-0.84,0.06),(-0.81,0.013),(-0.78,0.03),(-0.75,0.008),(-0.72,0.018),
    (-0.69,0.05),(-0.66,0.012),(-0.63,0.025),(-0.6,0.006),(-0.57,0.015),(-0.54,0.035),(-0.51,0.01),(-0.48,0.02),(-0.45,0.0055),(-0.42,0.013),
    (-0.39,0.028),(-0.36,0.008),(-0.33,0.016),(-0.3,0.0045),(-0.27,0.011),(-0.24,0.022),(-0.21,0.007),(-0.18,0.013),(-0.15,0.004),(-0.12,0.009),
    (-0.09,0.018),(-0.06,0.006),(-0.03,0.011),
    (0.005,0.013),(0.035,0.006),(0.065,0.02),(0.095,0.009),(0.125,0.014),(0.155,0.0055),(0.185,0.011),(0.215,0.03),(0.245,0.012),(0.275,0.018),
    (0.305,0.007),(0.335,0.025),(0.365,0.014),(0.395,0.02),(0.425,0.009),(0.455,0.016),(0.485,0.04),(0.515,0.014),(0.545,0.022),(0.575,0.01),
    (0.605,0.019),(0.635,0.032),(0.665,0.013),(0.695,0.026),(0.725,0.017),(0.755,0.045),(0.785,0.021),(0.815,0.012),(0.845,0.03),(0.875,0.018),
    (0.905,0.04),(0.935,0.025),(0.965,0.014),
    (1.01,0.03),(1.045,0.05),(1.08,0.02),(1.115,0.038),(1.15,0.09),(1.185,0.025),(1.22,0.045),(1.255,0.015),(1.29,0.032),(1.325,0.06),
    (1.36,0.022),(1.395,0.04),(1.43,0.12),(1.465,0.028),(1.5,0.05),(1.535,0.018),(1.57,0.038),(1.605,0.07),(1.64,0.025),(1.675,0.045),
    (1.71,0.016),(1.745,0.055),(1.78,0.032),(1.815,0.1),(1.85,0.04),(1.885,0.025),(1.92,0.065),(1.955,0.045),
    (2.01,0.04),(2.045,0.07),(2.08,0.028),(2.115,0.12),(2.15,0.05),(2.185,0.02),(2.22,0.08),(2.255,0.045),(2.29,0.15),(2.325,0.06),
    (2.36,0.03),(2.395,0.09),(2.43,0.05),(2.465,0.07),(2.5,0.024),(2.535,0.1),(2.57,0.055),(2.605,0.18),(2.64,0.04),(2.675,0.075),
    (2.71,0.03),(2.745,0.11),(2.78,0.06),(2.815,0.085),(2.85,0.035),(2.885,0.14),(2.92,0.05),(2.955,0.09),
    (3.01,0.06),(3.045,0.1),(3.08,0.035),(3.115,0.075),(3.15,0.13),(3.185,0.05),(3.22,0.09),(3.255,0.025),(3.29,0.11),(3.325,0.07),
    (3.36,0.2),(3.395,0.05),(3.43,0.085),(3.465,0.04),(3.5,0.12),(3.535,0.065),(3.57,0.16),(3.605,0.045),(3.64,0.09),(3.675,0.06),
    (3.71,0.25),(3.745,0.08),(3.78,0.035),(3.815,0.11),(3.85,0.07),(3.885,0.14),(3.92,0.05),(3.955,0.1),
    (4.01,0.075),(4.045,0.13),(4.08,0.045),(4.115,0.1),(4.15,0.2),(4.185,0.06),(4.22,0.12),(4.255,0.035),(4.29,0.09),(4.325,0.16),
    (4.36,0.055),(4.395,0.11),(4.43,0.25),(4.465,0.07),(4.5,0.14),(4.535,0.045),(4.57,0.1),(4.605,0.18),(4.64,0.065),(4.675,0.12),
    (4.71,0.3),(4.745,0.08),(4.78,0.15),(4.815,0.05),(4.85,0.11),(4.885,0.2),(4.92,0.075),(4.955,0.13),(4.99,0.09),
    (-4.95,0.55),(-4.8,0.7),(-4.6,0.5),(-4.45,0.6),(-4.2,0.45),(-4.05,0.65),(-3.85,0.4),(-3.65,0.55),(-3.4,0.35),(-3.25,0.5),(-3.0,0.4),(-2.75,0.45),
    (-2.55,0.3),(-2.3,0.4),(-2.05,0.35),(-1.85,0.3),(-1.6,0.25),(-1.3,0.2),(-1.15,0.3),(-0.85,0.15),(-0.6,0.12),(0.3,0.09),(0.6,0.15),(0.9,0.2),
    (1.2,0.25),(1.45,0.3),(1.75,0.35),(2.0,0.4),(2.3,0.35),(2.6,0.5),(2.85,0.4),(3.1,0.55),(3.4,0.45),(3.65,0.6),(3.9,0.5),(4.15,0.65),(4.4,0.55),
    (4.65,0.7),(4.85,0.6),(4.95,0.8),
    (-4.38,13.5),(-4.33,10.7),(-4.8,4.0),(-4.55,4.0),(-4.39,4.0),(-4.3,3.4),(-4.26,3.2),(-3.82,4.3),(-4.65,2.2),(-3.95,2.5),(-4.0,1.8),(-3.11,1.75),
    (-2.79,2.05),(-2.36,2.1),(-1.91,4.7),(-0.63,4.5),(-3.7,1.38),(-3.59,1.2),(-3.47,1.08),(-2.63,1.38),(-2.52,1.5),(-1.81,1.2),(-2.1,1.1),(-2.25,1.0),
    (-1.26,1.4),(-0.7,1.5),(-0.5,0.75),(-1.4,0.75),(-1.09,0.8),(-0.97,0.7),(-4.97,1.05),(-4.93,1.15),(-4.84,0.9),(-4.76,0.85),
    (1.54,4.1),(3.35,5.3),(3.27,4.1),(4.6,4.9),(4.47,4.1),(4.42,2.8),(4.6,2.9),(4.99,3.5),(5.0,2.0),(4.67,1.2),(4.86,1.15),(1.69,2.2),(2.11,2.0),
    (2.15,1.3),(2.45,1.6),(2.72,1.75),(2.81,1.55),(2.67,1.2),(3.26,2.1),(3.35,2.1),(3.62,1.4),(3.62,1.0),(3.85,1.8),(4.05,2.5),(4.07,1.9),(4.2,1.5),
    (4.02,0.7),(4.18,0.75),(1.06,1.2),(1.23,1.1),(1.32,1.0),(1.56,0.88),(1.65,0.9),(1.75,0.8),(1.91,0.75),(1.28,0.68),(2.0,0.7),(0.53,0.6),(0.58,0.3),
    (-2.86,0.0134),(-2.86,0.0074),(-1.87,0.0026),(-1.45,0.0025),(-1.07,0.0026),(-1.64,0.0095),(-1.42,0.009),(-1.24,0.009),(2.2,0.0092),(1.55,0.006),
    (1.7,0.0075),(2.2,0.00085),(4.62,0.0051),(0.89,0.00077),(1.08,0.00065),(0.85,0.00038),(-0.01,0.00033),(-0.41,0.00019),(-0.77,0.00104),
    (-0.66,0.00074),(-0.48,0.00087),(-0.28,0.0011),(-0.11,0.00095),(0.04,0.00095),(0.12,0.00095),(0.01,0.00058),
    (-0.64,0.004),(-0.49,0.0048),(-0.34,0.0037),(-0.26,0.0027),(-0.19,0.003),(-0.11,0.0021),(-0.37,0.0019),(-0.34,0.0016),(0.08,0.0016),(0.12,0.0026),
    (0.27,0.003),(0.35,0.0045),(0.43,0.0042),(0.66,0.0033),(0.66,0.0021),(0.73,0.0065),(0.96,0.0055),(-0.49,0.0068),(-0.57,0.006),(-0.19,0.006),
    (0.12,0.006),(-0.72,0.008),(-0.99,0.0095),(-0.87,0.0085),(-0.03,0.009),(0.27,0.0095),(0.5,0.009),(0.73,0.011),(0.96,0.009),(1.15,0.012),
    (1.37,0.011),(1.6,0.013),
]

zhenxi = [
    (-4.98,0.3),(-4.96,0.18),(-4.93,0.45),(-4.91,0.24),(-4.88,0.13),(-4.86,0.35),(-4.83,0.2),(-4.81,0.6),(-4.78,0.28),(-4.76,0.1),
    (-4.73,0.22),(-4.71,0.38),(-4.68,0.15),(-4.66,0.3),(-4.63,0.5),(-4.61,0.19),(-4.58,0.26),(-4.56,0.12),(-4.53,0.8),(-4.51,0.33),
    (-4.48,0.25),(-4.46,0.16),(-4.43,0.4),(-4.41,0.21),(-4.38,0.11),(-4.36,0.3),(-4.33,0.55),(-4.31,0.18),(-4.28,0.27),(-4.26,0.14),
    (-4.23,0.2),(-4.21,0.33),(-4.18,0.13),(-4.16,0.24),(-4.13,0.45),(-4.11,0.17),(-4.08,0.09),(-4.06,0.28),(-4.03,0.15),(-4.01,0.65),
    (-3.98,0.19),(-3.96,0.3),(-3.93,0.12),(-3.91,0.22),(-3.88,0.4),(-3.86,0.15),(-3.83,0.08),(-3.81,0.26),(-3.78,0.17),(-3.76,0.55),
    (-3.73,0.21),(-3.71,0.11),(-3.68,0.32),(-3.66,0.16),(-3.63,0.24),(-3.61,0.07),(-3.58,0.14),(-3.56,0.42),(-3.53,0.19),(-3.51,0.27),
    (-3.48,0.16),(-3.46,0.25),(-3.43,0.1),(-3.41,0.2),(-3.38,0.35),(-3.36,0.13),(-3.33,0.06),(-3.31,0.22),(-3.28,0.15),(-3.26,0.7),
    (-3.23,0.18),(-3.21,0.12),(-3.18,0.28),(-3.16,0.09),(-3.13,0.2),(-3.11,0.15),(-3.08,0.4),(-3.06,0.11),(-3.03,0.24),(-3.01,0.055),
    (-2.98,0.17),(-2.96,0.1),(-2.93,0.26),(-2.91,0.14),(-2.88,0.07),(-2.86,0.21),(-2.83,0.5),(-2.81,0.12),(-2.78,0.18),(-2.76,0.045),
    (-2.73,0.15),(-2.71,0.22),(-2.68,0.09),(-2.66,0.17),(-2.63,0.33),(-2.61,0.11),(-2.58,0.06),(-2.56,0.2),(-2.53,0.13),(-2.51,0.04),
    (-2.48,0.14),(-2.46,0.08),(-2.43,0.2),(-2.41,0.12),(-2.38,0.28),(-2.36,0.065),(-2.33,0.16),(-2.31,0.1),(-2.28,0.4),(-2.26,0.035),
    (-2.23,0.12),(-2.21,0.18),(-2.18,0.075),(-2.16,0.14),(-2.13,0.25),(-2.11,0.09),(-2.08,0.05),(-2.06,0.16),(-2.03,0.11),(-2.01,0.6),
    (-1.98,0.11),(-1.96,0.065),(-1.93,0.16),(-1.91,0.09),(-1.88,0.22),(-1.86,0.05),(-1.83,0.13),(-1.81,0.08),(-1.78,0.35),(-1.76,0.04),
    (-1.73,0.09),(-1.71,0.13),(-1.68,0.055),(-1.66,0.1),(-1.63,0.18),(-1.61,0.04),(-1.58,0.07),(-1.56,0.12),(-1.53,0.03),(-1.51,0.085),
    (-1.48,0.07),(-1.46,0.1),(-1.43,0.045),(-1.41,0.08),(-1.38,0.15),(-1.36,0.03),(-1.33,0.055),(-1.31,0.09),(-1.28,0.025),(-1.26,0.065),
    (-1.23,0.055),(-1.21,0.08),(-1.18,0.035),(-1.16,0.065),(-1.13,0.12),(-1.11,0.025),(-1.08,0.045),(-1.06,0.075),(-1.03,0.02),(-1.01,0.05),
    (-0.98,0.045),(-0.96,0.065),(-0.93,0.03),(-0.91,0.05),(-0.88,0.09),(-0.86,0.022),(-0.83,0.038),(-0.81,0.06),(-0.78,0.018),(-0.76,0.04),
    (-0.73,0.035),(-0.71,0.05),(-0.68,0.025),(-0.66,0.042),(-0.63,0.07),(-0.61,0.018),(-0.58,0.03),(-0.56,0.045),(-0.53,0.015),(-0.51,0.028),
    (-0.48,0.028),(-0.46,0.04),(-0.43,0.02),(-0.41,0.032),(-0.38,0.055),(-0.36,0.014),(-0.33,0.024),(-0.31,0.035),(-0.28,0.012),(-0.26,0.022),
    (-0.23,0.022),(-0.21,0.03),(-0.18,0.016),(-0.16,0.025),(-0.13,0.04),(-0.11,0.011),(-0.08,0.019),(-0.06,0.027),(-0.03,0.009),(-0.01,0.017),
    (0.02,0.02),(0.04,0.028),(0.07,0.014),(0.09,0.023),(0.12,0.04),(0.14,0.011),(0.17,0.018),(0.19,0.03),(0.22,0.013),(0.24,0.025),
    (0.27,0.025),(0.29,0.035),(0.32,0.017),(0.34,0.028),(0.37,0.05),(0.39,0.013),(0.42,0.022),(0.44,0.038),(0.47,0.016),(0.49,0.03),
    (0.52,0.035),(0.54,0.05),(0.57,0.024),(0.59,0.04),(0.62,0.075),(0.64,0.018),(0.67,0.03),(0.69,0.055),(0.72,0.021),(0.74,0.045),
    (0.77,0.045),(0.79,0.065),(0.82,0.03),(0.84,0.052),(0.87,0.1),(0.89,0.024),(0.92,0.038),(0.94,0.07),(0.97,0.027),(0.99,0.058),
    (1.02,0.06),(1.04,0.085),(1.07,0.04),(1.09,0.07),(1.12,0.13),(1.14,0.03),(1.17,0.05),(1.19,0.09),(1.22,0.035),(1.24,0.075),
    (1.27,0.07),(1.29,0.1),(1.32,0.05),(1.34,0.08),(1.37,0.16),(1.39,0.035),(1.42,0.06),(1.44,0.11),(1.47,0.042),(1.49,0.09),
    (1.52,0.085),(1.54,0.12),(1.57,0.06),(1.59,0.1),(1.62,0.2),(1.64,0.045),(1.67,0.07),(1.69,0.13),(1.72,0.05),(1.74,0.11),
    (1.77,0.1),(1.79,0.14),(1.82,0.07),(1.84,0.12),(1.87,0.25),(1.89,0.05),(1.92,0.085),(1.94,0.16),(1.97,0.06),(1.99,0.13),
    (2.02,0.12),(2.04,0.17),(2.07,0.08),(2.09,0.14),(2.12,0.3),(2.14,0.06),(2.17,0.1),(2.19,0.2),(2.22,0.07),(2.24,0.15),
    (2.27,0.14),(2.29,0.2),(2.32,0.09),(2.34,0.16),(2.37,0.35),(2.39,0.065),(2.42,0.11),(2.44,0.23),(2.47,0.08),(2.49,0.17),
    (2.52,0.15),(2.54,0.22),(2.57,0.1),(2.59,0.18),(2.62,0.4),(2.64,0.07),(2.67,0.12),(2.69,0.26),(2.72,0.085),(2.74,0.19),
    (2.77,0.16),(2.79,0.24),(2.82,0.11),(2.84,0.19),(2.87,0.45),(2.89,0.075),(2.92,0.13),(2.94,0.28),(2.97,0.09),(2.99,0.2),
    (3.02,0.17),(3.04,0.25),(3.07,0.12),(3.09,0.2),(3.12,0.5),(3.14,0.08),(3.17,0.14),(3.19,0.3),(3.22,0.095),(3.24,0.21),
    (3.27,0.18),(3.29,0.26),(3.32,0.12),(3.34,0.21),(3.37,0.55),(3.39,0.085),(3.42,0.15),(3.44,0.32),(3.47,0.1),(3.49,0.22),
    (3.52,0.19),(3.54,0.28),(3.57,0.13),(3.59,0.22),(3.62,0.6),(3.64,0.09),(3.67,0.15),(3.69,0.34),(3.72,0.1),(3.74,0.23),
    (3.77,0.2),(3.79,0.3),(3.82,0.13),(3.84,0.23),(3.87,0.5),(3.89,0.09),(3.92,0.16),(3.94,0.36),(3.97,0.11),(3.99,0.24),
    (4.02,0.21),(4.04,0.32),(4.07,0.14),(4.09,0.24),(4.12,0.55),(4.14,0.095),(4.17,0.17),(4.19,0.38),(4.22,0.12),(4.24,0.26),
    (4.27,0.22),(4.29,0.34),(4.32,0.15),(4.34,0.26),(4.37,0.6),(4.39,0.1),(4.42,0.18),(4.44,0.4),(4.47,0.12),(4.49,0.27),
    (4.52,0.23),(4.54,0.36),(4.57,0.16),(4.59,0.27),(4.62,0.65),(4.64,0.1),(4.67,0.19),(4.69,0.42),(4.72,0.13),(4.74,0.28),
    (4.77,0.24),(4.79,0.38),(4.82,0.16),(4.84,0.28),(4.87,0.7),(4.89,0.11),(4.92,0.2),(4.94,0.45),(4.96,0.13),(4.98,0.3),
    (-4.99,0.25),(-4.965,0.4),(-4.94,0.16),(-4.92,0.3),(-4.895,0.55),(-4.87,0.21),(-4.845,0.12),(-4.82,0.34),(-4.8,0.19),(-4.775,0.27),
    (-4.745,0.45),(-4.72,0.15),(-4.7,0.24),(-4.675,0.33),(-4.65,0.1),(-4.625,0.2),(-4.6,0.62),(-4.58,0.28),(-4.555,0.17),(-4.53,0.37),
    (-4.5,0.22),(-4.475,0.13),(-4.455,0.3),(-4.43,0.5),(-4.405,0.18),(-4.38,0.26),(-4.36,0.09),(-4.335,0.35),(-4.31,0.2),(-4.285,0.15),
    (-4.26,0.42),(-4.24,0.24),(-4.215,0.12),(-4.19,0.29),(-4.17,0.17),(-4.145,0.7),(-4.12,0.21),(-4.095,0.1),(-4.075,0.32),(-4.05,0.16),
    (-4.025,0.26),(-4.0,0.14),(-3.98,0.38),(-3.955,0.2),(-3.93,0.085),(-3.905,0.28),(-3.885,0.17),(-3.86,0.5),(-3.835,0.12),(-3.81,0.23),
    (-3.79,0.16),(-3.765,0.32),(-3.74,0.1),(-3.715,0.19),(-3.695,0.27),(-3.67,0.13),(-3.645,0.45),(-3.62,0.2),(-3.6,0.075),(-3.575,0.24),
    (-3.55,0.15),(-3.525,0.3),(-3.505,0.11),(-3.48,0.22),(-3.455,0.17),(-3.43,0.6),(-3.41,0.13),(-3.385,0.26),(-3.36,0.08),(-3.335,0.19),
    (-3.315,0.35),(-3.29,0.14),(-3.265,0.21),(-3.24,0.1),(-3.22,0.28),(-3.195,0.16),(-3.17,0.065),(-3.145,0.4),(-3.125,0.18),(-3.1,0.12),
    (-3.075,0.24),(-3.05,0.09),(-3.03,0.16),(-3.005,0.33),(-2.98,0.13),(-2.955,0.2),(-2.935,0.07),(-2.91,0.27),(-2.885,0.15),(-2.86,0.45),
    (-2.84,0.11),(-2.815,0.19),(-2.79,0.06),(-2.765,0.23),(-2.745,0.14),(-2.72,0.35),(-2.695,0.1),(-2.67,0.17),(-2.65,0.05),(-2.625,0.26),
    (-2.6,0.13),(-2.575,0.2),(-2.555,0.085),(-2.53,0.15),(-2.505,0.3),(-2.48,0.11),(-2.46,0.18),(-2.435,0.045),(-2.41,0.13),(-2.385,0.24),
    (-2.365,0.09),(-2.34,0.16),(-2.315,0.06),(-2.29,0.12),(-2.27,0.2),(-2.245,0.08),(-2.22,0.14),(-2.195,0.35),(-2.175,0.1),(-2.15,0.05),
    (-2.125,0.17),(-2.1,0.11),(-2.08,0.075),(-2.055,0.13),(-2.03,0.22),(-2.005,0.09),(-1.985,0.045),(-1.96,0.14),(-1.935,0.1),(-1.91,0.3),
    (-1.89,0.07),(-1.865,0.12),(-1.84,0.085),(-1.82,0.04),(-1.795,0.16),(-1.77,0.06),(-1.745,0.1),(-1.725,0.25),(-1.7,0.075),(-1.675,0.035),
    (-1.65,0.09),(-1.63,0.13),(-1.605,0.055),(-1.58,0.08),(-1.56,0.18),(-1.535,0.045),(-1.51,0.07),(-1.49,0.11),(-1.465,0.03),(-1.44,0.065),
    (-1.42,0.095),(-1.395,0.05),(-1.37,0.14),(-1.35,0.035),(-1.325,0.07),(-1.3,0.1),(-1.28,0.045),(-1.255,0.028),(-1.23,0.06),(-1.21,0.085),
    (-1.185,0.04),(-1.16,0.12),(-1.14,0.055),(-1.115,0.03),(-1.09,0.07),(-1.07,0.045),(-1.045,0.022),(-1.02,0.06),(-1.0,0.09),(-0.975,0.035),
    (-0.95,0.05),(-0.93,0.025),(-0.905,0.075),(-0.88,0.04),(-0.86,0.018),(-0.835,0.055),(-0.81,0.032),(-0.79,0.1),(-0.765,0.028),(-0.74,0.045),
    (-0.72,0.02),(-0.695,0.038),(-0.67,0.065),(-0.65,0.027),(-0.625,0.015),(-0.6,0.045),(-0.58,0.032),(-0.555,0.02),(-0.53,0.055),(-0.51,0.024),
    (-0.485,0.036),(-0.46,0.013),(-0.44,0.028),(-0.415,0.045),(-0.39,0.019),(-0.37,0.03),(-0.345,0.011),(-0.32,0.024),(-0.3,0.04),(-0.275,0.016),
    (-0.25,0.027),(-0.23,0.0095),(-0.205,0.02),(-0.18,0.033),(-0.16,0.014),(-0.135,0.023),(-0.11,0.008),(-0.09,0.017),(-0.065,0.03),(-0.04,0.012),
    (-0.02,0.021),(0.0,0.0075),(0.025,0.016),(0.045,0.027),(0.07,0.012),(0.09,0.02),(0.115,0.035),(0.135,0.009),(0.16,0.024),(0.18,0.015),
    (0.205,0.03),(0.225,0.011),(0.25,0.021),(0.27,0.042),(0.295,0.017),(0.315,0.028),(0.34,0.013),(0.36,0.035),(0.385,0.022),(0.405,0.055),
    (0.43,0.019),(0.45,0.032),(0.475,0.015),(0.495,0.045),(0.52,0.026),(0.54,0.07),(0.565,0.021),(0.585,0.038),(0.61,0.055),(0.63,0.029),
    (0.655,0.018),(0.675,0.045),(0.7,0.033),(0.72,0.09),(0.745,0.025),(0.765,0.055),(0.79,0.04),(0.81,0.022),(0.835,0.065),(0.855,0.036),
    (0.88,0.12),(0.9,0.05),(0.925,0.028),(0.945,0.075),(0.97,0.042),(0.99,0.06),(1.015,0.033),(1.035,0.09),(1.06,0.052),(1.08,0.14),
    (1.105,0.04),(1.125,0.07),(1.15,0.1),(1.17,0.055),(1.195,0.03),(1.215,0.085),(1.24,0.06),(1.26,0.17),(1.285,0.045),(1.305,0.075),
    (1.33,0.11),(1.35,0.065),(1.375,0.038),(1.395,0.095),(1.42,0.07),(1.44,0.2),(1.465,0.05),(1.485,0.085),(1.51,0.13),(1.53,0.06),
    (1.555,0.1),(1.575,0.045),(1.6,0.075),(1.62,0.16),(1.645,0.09),(1.665,0.055),(1.69,0.12),(1.71,0.25),(1.735,0.07),(1.755,0.1),
    (1.78,0.05),(1.8,0.14),(1.825,0.085),(1.845,0.19),(1.87,0.065),(1.89,0.11),(1.915,0.3),(1.935,0.08),(1.96,0.13),(1.98,0.055),
    (2.005,0.17),(2.025,0.1),(2.05,0.07),(2.07,0.22),(2.095,0.12),(2.115,0.08),(2.14,0.15),(2.16,0.35),(2.185,0.1),(2.205,0.06),
    (2.23,0.19),(2.25,0.13),(2.275,0.085),(2.295,0.25),(2.32,0.15),(2.34,0.07),(2.365,0.11),(2.385,0.2),(2.41,0.4),(2.43,0.12),
    (2.455,0.09),(2.475,0.17),(2.5,0.13),(2.52,0.28),(2.545,0.075),(2.565,0.2),(2.59,0.11),(2.61,0.15),(2.635,0.5),(2.655,0.1),
    (2.68,0.23),(2.7,0.14),(2.725,0.08),(2.745,0.18),(2.77,0.3),(2.79,0.12),(2.815,0.2),(2.835,0.065),(2.86,0.16),(2.88,0.26),
    (2.905,0.11),(2.925,0.19),(2.95,0.14),(2.97,0.4),(2.995,0.09),(3.015,0.22),(3.04,0.15),(3.06,0.3),(3.085,0.12),(3.105,0.18),
    (3.13,0.075),(3.15,0.25),(3.175,0.16),(3.195,0.1),(3.22,0.21),(3.24,0.35),(3.265,0.13),(3.285,0.19),(3.31,0.55),(3.33,0.11),
    (3.355,0.24),(3.375,0.15),(3.4,0.085),(3.42,0.2),(3.445,0.3),(3.465,0.12),(3.49,0.18),(3.51,0.27),(3.535,0.1),(3.555,0.16),
    (3.58,0.4),(3.6,0.22),(3.625,0.13),(3.645,0.08),(3.67,0.19),(3.69,0.29),(3.715,0.14),(3.735,0.23),(3.76,0.6),(3.78,0.11),
    (3.805,0.17),(3.825,0.26),(3.85,0.09),(3.87,0.2),(3.895,0.34),(3.915,0.15),(3.94,0.24),(3.96,0.12),(3.985,0.45),(4.005,0.19),
    (4.03,0.1),(4.05,0.28),(4.075,0.16),(4.095,0.38),(4.12,0.22),(4.14,0.13),(4.165,0.3),(4.185,0.085),(4.21,0.2),(4.23,0.5),
    (4.255,0.17),(4.275,0.26),(4.3,0.11),(4.32,0.35),(4.345,0.21),(4.365,0.14),(4.39,0.7),(4.41,0.24),(4.435,0.1),(4.455,0.31),
    (4.48,0.18),(4.5,0.42),(4.525,0.13),(4.545,0.27),(4.57,0.2),(4.59,0.09),(4.615,0.36),(4.635,0.16),(4.66,0.55),(4.68,0.23),
    (4.705,0.12),(4.725,0.3),(4.75,0.19),(4.77,0.45),(4.795,0.15),(4.815,0.26),(4.84,0.1),(4.86,0.38),(4.885,0.21),(4.905,0.6),
    (4.93,0.14),(4.95,0.29),(4.97,0.18),(4.985,0.42),(4.995,0.22),
    (-4.95,0.8),(-4.8,1.1),(-4.6,0.9),(-4.45,1.3),(-4.25,0.85),(-4.1,1.2),(-3.95,0.75),(-3.75,1.0),(-3.55,0.7),(-3.35,0.9),(-3.15,0.65),(-2.95,0.8),
    (-2.75,0.6),(-2.55,0.75),(-2.3,0.55),(-2.1,0.65),(-1.85,0.45),(-1.65,0.6),(-1.45,0.35),(-1.2,0.4),(-0.9,0.25),(-0.7,0.2),(0.5,0.2),(0.8,0.35),
    (1.1,0.45),(1.35,0.55),(1.6,0.6),(1.85,0.7),(2.1,0.8),(2.35,0.65),(2.6,0.9),(2.85,0.75),(3.1,1.0),(3.35,0.8),(3.6,1.1),(3.85,0.85),(4.1,1.2),
    (4.35,0.9),(4.55,1.3),(4.75,1.0),(4.9,1.4),(4.98,0.85),
    (-4.68,18.8),(-3.86,16.2),(-4.97,3.9),(-4.95,4.1),(-4.3,9.8),(-4.26,7.2),(-4.7,7.6),(-3.77,8.6),(-3.4,7.2),(-3.36,5.9),(-3.31,4.7),(-2.73,9.6),
    (-2.86,5.9),(-2.52,5.0),(-2.37,5.4),(-2.34,3.2),(-4.39,4.3),(-4.7,2.0),(-4.36,2.0),(-3.78,3.2),(-3.74,3.4),(-3.93,2.45),(-3.78,2.0),(-3.51,2.0),
    (-3.41,3.2),(-3.32,1.8),(-3.22,2.3),(-2.85,2.1),(-2.79,1.55),(-2.69,2.6),(-2.63,1.4),(-2.5,1.9),(-1.91,4.0),(-1.85,3.6),(-1.74,4.4),(-1.55,2.5),
    (-1.03,1.86),(-1.24,1.7),(-1.41,1.33),(-1.39,1.25),(-0.92,0.98),(-0.49,2.3),(-1.81,0.95),(-2.02,0.85),(-1.58,0.97),
    (4.1,26.7),(4.04,11.5),(4.8,11.0),(4.47,8.0),(4.65,7.6),(2.8,7.0),(3.12,7.8),(3.3,7.5),(3.45,6.3),(3.87,6.4),(4.16,6.4),(2.46,4.0),(2.76,4.3),
    (2.99,3.9),(3.43,3.8),(3.99,3.5),(4.42,3.9),(4.62,4.1),(4.83,3.7),(2.02,3.4),(1.88,2.5),(2.29,1.9),(2.49,2.4),(2.95,2.8),(3.22,2.5),(3.1,1.8),
    (3.5,1.4),(3.75,2.4),(3.93,1.2),(4.1,2.4),(4.41,2.25),(4.67,2.3),(4.7,1.8),(5.0,1.0),
    (0.95,4.5),(0.8,2.7),(0.72,1.9),(0.41,1.4),(1.04,1.5),(1.26,2.0),(1.39,1.8),(1.64,1.75),(1.71,1.3),(1.54,1.2),(1.79,1.35),(2.04,0.95),(1.41,0.9),
    (1.22,1.0),(0.95,0.7),(0.72,0.9),(0.67,0.75),
    (-4.78,0.053),(-1.94,0.0075),(-0.64,0.00125),(0.62,0.00104),(0.66,0.00059),(-0.05,0.0017),(-0.05,0.0011),(-0.02,0.001),(-0.02,0.00046),
    (-0.02,0.00036),(-0.02,0.00019),(-0.11,0.00265),(-0.07,0.0019),(-0.5,0.0046),(-0.42,0.0048),(-0.3,0.0054),(-0.15,0.0054),(0.12,0.0031),
    (0.35,0.0035),(0.41,0.0036),(0.3,0.0054),(0.18,0.0058),(0.5,0.0104),(0.92,0.0085),(1.46,0.014),(1.61,0.012),(-1.41,0.018),(-1.14,0.014),
    (-0.93,0.013),(-0.27,0.008),(0.05,0.007),
    (-4.3,0.07),(-4.0,0.06),(-3.6,0.05),(-3.1,0.045),(-2.5,0.04),(2.1,0.045),(2.6,0.05),(3.7,0.045),(4.3,0.03),(4.5,0.045),(4.2,0.06),
]

panels = [chaersen, dashizhai, suolun, zhenxi]

W, H = 3693, 2488
col_x = [[429 / W, 1853 / W], [2195 / W, 3620 / W]]
row_y = [[1 - 1046 / H, 1 - 75 / H], [1 - 2214 / H, 1 - 1241 / H]]
label_y = [0.94, 0.933]
letter_x = [0.0133, 0.0154, 0.0204, 0.0154]
name_x = [0.099, 0.1004, 0.103, 0.1004]
z_x = [0.0246, 0.030, 0.029, 0.030]
z_shift = [-65, -56, -67, -57]

serif = "Liberation Serif"
dot_color = "#787878"
line_red = "#DC1E26"
text_red = "#B9202B"

minor_vals = [m * 10.0 ** e for e in range(-4, 2) for m in range(2, 10)]

fig = go.Figure()
layout = dict(
    width=W, height=H,
    margin=dict(l=0, r=0, t=0, b=0, autoexpand=False),
    paper_bgcolor="white", plot_bgcolor="white",
    showlegend=False,
    font=dict(family=serif, size=58, color="black"),
)
annotations = []

for i, pts in enumerate(panels):
    r, c = divmod(i, 2)
    n = "" if i == 0 else str(i + 1)
    xs = [p[0] for p in pts]
    ys = [p[1] for p in pts]
    fig.add_trace(go.Scatter(
        x=xs, y=ys, mode="markers", xaxis="x" + n, yaxis="y" + n,
        marker=dict(size=15, color=dot_color, line=dict(width=0)),
    ))
    fig.add_trace(go.Scatter(
        x=[-6, 6], y=[z_values[i], z_values[i]], mode="lines",
        xaxis="x" + n, yaxis="y" + n,
        line=dict(color=line_red, width=7),
    ))
    layout["xaxis" + n] = dict(
        domain=col_x[c], anchor="y" + n, range=[-6, 6], automargin=False,
        tickmode="array", tickvals=x_ticks, ticktext=x_ticktext,
        ticks="outside", ticklen=20, tickwidth=3, tickcolor="black",
        showline=True, linewidth=3, linecolor="black", mirror=True,
        showgrid=False, zeroline=False,
        tickfont=dict(family=serif, size=68), ticklabelstandoff=-12,
    )
    layout["yaxis" + n] = dict(
        domain=row_y[r], anchor="x" + n, type="log", range=[-4, 2], automargin=False,
        tickmode="array", tickvals=y_ticks, ticktext=y_ticktext,
        ticks="outside", ticklen=16, tickwidth=3, tickcolor="black",
        minor=dict(tickmode="array", tickvals=minor_vals, ticks="outside",
                   ticklen=8, tickwidth=2, tickcolor="black", showgrid=False),
        showline=True, linewidth=3, linecolor="black", mirror=True,
        showgrid=False, zeroline=False,
        tickfont=dict(family=serif, size=68), ticklabelstandoff=26,
    )
    annotations.append(dict(
        text=letters[i], xref="x" + n + " domain", yref="y" + n + " domain",
        x=letter_x[i], y=label_y[r], xanchor="left", yanchor="middle",
        showarrow=False, font=dict(family=serif, size=64, color="black"),
    ))
    annotations.append(dict(
        text=stations[i], xref="x" + n + " domain", yref="y" + n + " domain",
        x=name_x[i], y=label_y[r], xanchor="left", yanchor="middle",
        showarrow=False, font=dict(family=serif, size=64, color="black"),
    ))
    annotations.append(dict(
        text=z_labels[i], xref="x" + n + " domain", yref="y" + n,
        x=z_x[i], y=math.log10(z_values[i]), yshift=z_shift[i],
        xanchor="left", yanchor="middle", showarrow=False,
        font=dict(family=serif, size=58, color=text_red),
    ))

annotations.append(dict(
    text="Random errors added to streamflow (%)", xref="paper", yref="paper",
    x=2025 / W, y=1 - 2405 / H, xanchor="center", yanchor="middle",
    showarrow=False, font=dict(family=serif, size=71, color="black"),
))
annotations.append(dict(
    text="Sec-D", xref="paper", yref="paper", textangle=-90,
    x=102 / W, y=1 - 1141 / H, xanchor="center", yanchor="middle",
    showarrow=False, font=dict(family="Liberation Sans", size=64, color="black"),
))
layout["annotations"] = annotations
layout["shapes"] = [
    dict(type="line", xref="paper", yref="paper", x0=52 / W, x1=145 / W,
         y0=1 - 1023 / H, y1=1 - 1023 / H, line=dict(color="#333333", width=3)),
    dict(type="line", xref="paper", yref="paper", x0=52 / W, x1=145 / W,
         y0=1 - 1262 / H, y1=1 - 1262 / H, line=dict(color="#333333", width=3)),
]

fig.update_layout(**layout)
fig.write_html("out.html")
